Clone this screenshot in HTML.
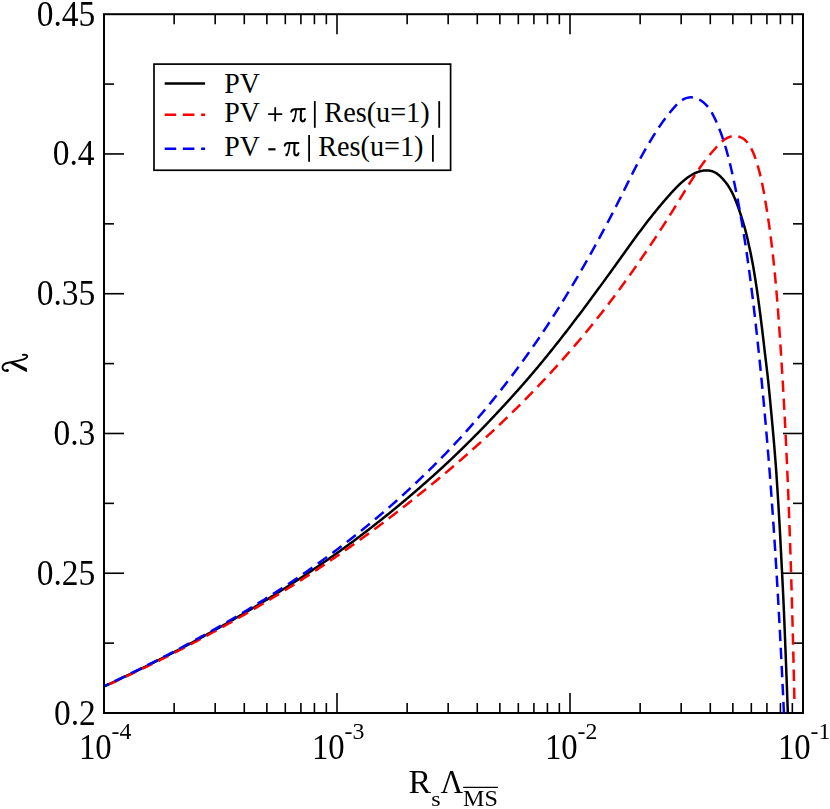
<!DOCTYPE html>
<html><head><meta charset="utf-8"><title>chart</title>
<style>html,body{margin:0;padding:0;background:#fff;}body{width:830px;height:809px;overflow:hidden;font-family:"Liberation Serif",serif;}svg{display:block;position:absolute;left:0;top:0}</style>
</head><body>
<svg width="830" height="809" viewBox="0 0 830 809">
<rect x="0" y="0" width="830" height="809" fill="#fff"/>
<rect x="104.0" y="14.2" width="699.0" height="698.8" fill="none" stroke="#000" stroke-width="2"/>
<line x1="174.14" y1="713.00" x2="174.14" y2="703.00" stroke="#000" stroke-width="1.6"/>
<line x1="174.14" y1="14.20" x2="174.14" y2="24.20" stroke="#000" stroke-width="1.6"/>
<line x1="215.17" y1="713.00" x2="215.17" y2="703.00" stroke="#000" stroke-width="1.6"/>
<line x1="215.17" y1="14.20" x2="215.17" y2="24.20" stroke="#000" stroke-width="1.6"/>
<line x1="244.28" y1="713.00" x2="244.28" y2="703.00" stroke="#000" stroke-width="1.6"/>
<line x1="244.28" y1="14.20" x2="244.28" y2="24.20" stroke="#000" stroke-width="1.6"/>
<line x1="266.86" y1="713.00" x2="266.86" y2="703.00" stroke="#000" stroke-width="1.6"/>
<line x1="266.86" y1="14.20" x2="266.86" y2="24.20" stroke="#000" stroke-width="1.6"/>
<line x1="285.31" y1="713.00" x2="285.31" y2="703.00" stroke="#000" stroke-width="1.6"/>
<line x1="285.31" y1="14.20" x2="285.31" y2="24.20" stroke="#000" stroke-width="1.6"/>
<line x1="300.91" y1="713.00" x2="300.91" y2="703.00" stroke="#000" stroke-width="1.6"/>
<line x1="300.91" y1="14.20" x2="300.91" y2="24.20" stroke="#000" stroke-width="1.6"/>
<line x1="314.42" y1="713.00" x2="314.42" y2="703.00" stroke="#000" stroke-width="1.6"/>
<line x1="314.42" y1="14.20" x2="314.42" y2="24.20" stroke="#000" stroke-width="1.6"/>
<line x1="326.34" y1="713.00" x2="326.34" y2="703.00" stroke="#000" stroke-width="1.6"/>
<line x1="326.34" y1="14.20" x2="326.34" y2="24.20" stroke="#000" stroke-width="1.6"/>
<line x1="337.00" y1="713.00" x2="337.00" y2="693.00" stroke="#000" stroke-width="1.6"/>
<line x1="337.00" y1="14.20" x2="337.00" y2="34.20" stroke="#000" stroke-width="1.6"/>
<line x1="407.14" y1="713.00" x2="407.14" y2="703.00" stroke="#000" stroke-width="1.6"/>
<line x1="407.14" y1="14.20" x2="407.14" y2="24.20" stroke="#000" stroke-width="1.6"/>
<line x1="448.17" y1="713.00" x2="448.17" y2="703.00" stroke="#000" stroke-width="1.6"/>
<line x1="448.17" y1="14.20" x2="448.17" y2="24.20" stroke="#000" stroke-width="1.6"/>
<line x1="477.28" y1="713.00" x2="477.28" y2="703.00" stroke="#000" stroke-width="1.6"/>
<line x1="477.28" y1="14.20" x2="477.28" y2="24.20" stroke="#000" stroke-width="1.6"/>
<line x1="499.86" y1="713.00" x2="499.86" y2="703.00" stroke="#000" stroke-width="1.6"/>
<line x1="499.86" y1="14.20" x2="499.86" y2="24.20" stroke="#000" stroke-width="1.6"/>
<line x1="518.31" y1="713.00" x2="518.31" y2="703.00" stroke="#000" stroke-width="1.6"/>
<line x1="518.31" y1="14.20" x2="518.31" y2="24.20" stroke="#000" stroke-width="1.6"/>
<line x1="533.91" y1="713.00" x2="533.91" y2="703.00" stroke="#000" stroke-width="1.6"/>
<line x1="533.91" y1="14.20" x2="533.91" y2="24.20" stroke="#000" stroke-width="1.6"/>
<line x1="547.42" y1="713.00" x2="547.42" y2="703.00" stroke="#000" stroke-width="1.6"/>
<line x1="547.42" y1="14.20" x2="547.42" y2="24.20" stroke="#000" stroke-width="1.6"/>
<line x1="559.34" y1="713.00" x2="559.34" y2="703.00" stroke="#000" stroke-width="1.6"/>
<line x1="559.34" y1="14.20" x2="559.34" y2="24.20" stroke="#000" stroke-width="1.6"/>
<line x1="570.00" y1="713.00" x2="570.00" y2="693.00" stroke="#000" stroke-width="1.6"/>
<line x1="570.00" y1="14.20" x2="570.00" y2="34.20" stroke="#000" stroke-width="1.6"/>
<line x1="640.14" y1="713.00" x2="640.14" y2="703.00" stroke="#000" stroke-width="1.6"/>
<line x1="640.14" y1="14.20" x2="640.14" y2="24.20" stroke="#000" stroke-width="1.6"/>
<line x1="681.17" y1="713.00" x2="681.17" y2="703.00" stroke="#000" stroke-width="1.6"/>
<line x1="681.17" y1="14.20" x2="681.17" y2="24.20" stroke="#000" stroke-width="1.6"/>
<line x1="710.28" y1="713.00" x2="710.28" y2="703.00" stroke="#000" stroke-width="1.6"/>
<line x1="710.28" y1="14.20" x2="710.28" y2="24.20" stroke="#000" stroke-width="1.6"/>
<line x1="732.86" y1="713.00" x2="732.86" y2="703.00" stroke="#000" stroke-width="1.6"/>
<line x1="732.86" y1="14.20" x2="732.86" y2="24.20" stroke="#000" stroke-width="1.6"/>
<line x1="751.31" y1="713.00" x2="751.31" y2="703.00" stroke="#000" stroke-width="1.6"/>
<line x1="751.31" y1="14.20" x2="751.31" y2="24.20" stroke="#000" stroke-width="1.6"/>
<line x1="766.91" y1="713.00" x2="766.91" y2="703.00" stroke="#000" stroke-width="1.6"/>
<line x1="766.91" y1="14.20" x2="766.91" y2="24.20" stroke="#000" stroke-width="1.6"/>
<line x1="780.42" y1="713.00" x2="780.42" y2="703.00" stroke="#000" stroke-width="1.6"/>
<line x1="780.42" y1="14.20" x2="780.42" y2="24.20" stroke="#000" stroke-width="1.6"/>
<line x1="792.34" y1="713.00" x2="792.34" y2="703.00" stroke="#000" stroke-width="1.6"/>
<line x1="792.34" y1="14.20" x2="792.34" y2="24.20" stroke="#000" stroke-width="1.6"/>
<line x1="104.00" y1="643.12" x2="114.00" y2="643.12" stroke="#000" stroke-width="1.6"/>
<line x1="803.00" y1="643.12" x2="793.00" y2="643.12" stroke="#000" stroke-width="1.6"/>
<line x1="104.00" y1="573.24" x2="124.00" y2="573.24" stroke="#000" stroke-width="1.6"/>
<line x1="803.00" y1="573.24" x2="783.00" y2="573.24" stroke="#000" stroke-width="1.6"/>
<line x1="104.00" y1="503.36" x2="114.00" y2="503.36" stroke="#000" stroke-width="1.6"/>
<line x1="803.00" y1="503.36" x2="793.00" y2="503.36" stroke="#000" stroke-width="1.6"/>
<line x1="104.00" y1="433.48" x2="124.00" y2="433.48" stroke="#000" stroke-width="1.6"/>
<line x1="803.00" y1="433.48" x2="783.00" y2="433.48" stroke="#000" stroke-width="1.6"/>
<line x1="104.00" y1="363.60" x2="114.00" y2="363.60" stroke="#000" stroke-width="1.6"/>
<line x1="803.00" y1="363.60" x2="793.00" y2="363.60" stroke="#000" stroke-width="1.6"/>
<line x1="104.00" y1="293.72" x2="124.00" y2="293.72" stroke="#000" stroke-width="1.6"/>
<line x1="803.00" y1="293.72" x2="783.00" y2="293.72" stroke="#000" stroke-width="1.6"/>
<line x1="104.00" y1="223.84" x2="114.00" y2="223.84" stroke="#000" stroke-width="1.6"/>
<line x1="803.00" y1="223.84" x2="793.00" y2="223.84" stroke="#000" stroke-width="1.6"/>
<line x1="104.00" y1="153.96" x2="124.00" y2="153.96" stroke="#000" stroke-width="1.6"/>
<line x1="803.00" y1="153.96" x2="783.00" y2="153.96" stroke="#000" stroke-width="1.6"/>
<line x1="104.00" y1="84.08" x2="114.00" y2="84.08" stroke="#000" stroke-width="1.6"/>
<line x1="803.00" y1="84.08" x2="793.00" y2="84.08" stroke="#000" stroke-width="1.6"/>
<clipPath id="c"><rect x="104.0" y="14.2" width="699.0" height="698.8"/></clipPath>
<g clip-path="url(#c)" fill="none" stroke-width="2.5" stroke-linejoin="round">
<path d="M104.96 686.12 L105.42 685.91 L105.97 685.65 L106.62 685.34 L107.36 684.99 L108.19 684.60 L109.02 684.21 L109.85 683.82 L110.68 683.42 L111.52 683.03 L112.35 682.64 L113.18 682.24 L114.01 681.85 L114.84 681.45 L115.67 681.06 L116.50 680.66 L117.33 680.27 L118.16 679.87 L118.99 679.48 L119.82 679.08 L120.65 678.68 L121.48 678.29 L122.30 677.89 L123.13 677.49 L123.96 677.09 L124.79 676.69 L125.62 676.29 L126.45 675.89 L127.28 675.50 L128.10 675.10 L128.93 674.70 L129.76 674.29 L130.59 673.89 L131.41 673.49 L132.24 673.09 L133.07 672.69 L133.90 672.29 L134.72 671.88 L135.55 671.48 L136.38 671.08 L137.20 670.67 L138.03 670.27 L138.86 669.86 L139.68 669.46 L140.51 669.05 L141.33 668.65 L142.16 668.24 L142.98 667.84 L143.81 667.43 L144.63 667.02 L145.46 666.61 L146.28 666.21 L147.11 665.80 L147.93 665.39 L148.76 664.98 L149.58 664.57 L150.40 664.16 L151.23 663.75 L152.05 663.34 L152.87 662.93 L153.70 662.52 L154.52 662.11 L155.34 661.69 L156.16 661.28 L156.99 660.87 L157.81 660.46 L158.63 660.04 L159.45 659.63 L160.27 659.21 L161.09 658.80 L161.91 658.38 L162.74 657.97 L163.56 657.55 L164.38 657.14 L165.20 656.72 L166.02 656.30 L166.84 655.88 L167.66 655.46 L168.48 655.04 L169.29 654.62 L170.11 654.20 L170.93 653.78 L171.75 653.35 L172.57 652.93 L173.39 652.50 L174.21 652.07 L175.02 651.64 L175.84 651.22 L176.66 650.79 L177.47 650.36 L178.29 649.93 L179.11 649.50 L179.92 649.07 L180.74 648.64 L181.56 648.20 L182.37 647.77 L183.19 647.34 L184.00 646.91 L184.82 646.47 L185.63 646.04 L186.45 645.61 L187.26 645.17 L188.08 644.74 L188.89 644.30 L189.70 643.86 L190.52 643.43 L191.33 642.99 L192.14 642.55 L192.95 642.12 L193.77 641.68 L194.58 641.24 L195.39 640.80 L196.20 640.36 L197.01 639.92 L197.83 639.48 L198.64 639.04 L199.45 638.60 L200.26 638.16 L201.07 637.71 L201.88 637.27 L202.69 636.83 L203.50 636.38 L204.30 635.94 L205.11 635.49 L205.92 635.05 L206.73 634.60 L207.54 634.16 L208.35 633.71 L209.15 633.26 L209.96 632.82 L210.77 632.37 L211.57 631.92 L212.38 631.47 L213.19 631.02 L213.99 630.57 L214.80 630.12 L215.60 629.67 L216.41 629.22 L217.21 628.77 L218.02 628.31 L218.82 627.86 L219.63 627.41 L220.43 626.95 L221.23 626.50 L222.03 626.04 L222.84 625.59 L223.64 625.13 L224.44 624.68 L225.24 624.22 L226.05 623.76 L226.85 623.30 L227.65 622.85 L228.45 622.39 L229.25 621.93 L230.05 621.47 L230.85 621.01 L231.65 620.54 L232.45 620.08 L233.25 619.62 L234.04 619.16 L234.84 618.70 L235.64 618.23 L236.44 617.77 L237.23 617.30 L238.03 616.84 L238.83 616.37 L239.62 615.91 L240.42 615.44 L241.22 614.98 L242.01 614.51 L242.81 614.05 L243.60 613.58 L244.40 613.11 L245.19 612.65 L245.98 612.18 L246.78 611.71 L247.57 611.24 L248.36 610.77 L249.15 610.30 L249.95 609.83 L250.74 609.36 L251.53 608.89 L252.32 608.42 L253.11 607.94 L253.90 607.47 L254.69 607.00 L255.48 606.52 L256.27 606.05 L257.06 605.57 L257.85 605.10 L258.64 604.62 L259.42 604.14 L260.21 603.66 L261.00 603.19 L261.79 602.71 L262.57 602.23 L263.36 601.75 L264.15 601.27 L264.93 600.79 L265.72 600.30 L266.50 599.82 L267.29 599.34 L268.07 598.85 L268.85 598.37 L269.64 597.89 L270.42 597.40 L271.20 596.91 L271.98 596.43 L272.77 595.94 L273.55 595.45 L274.33 594.97 L275.11 594.48 L275.89 593.99 L276.67 593.50 L277.45 593.01 L278.23 592.52 L279.01 592.02 L279.79 591.53 L280.56 591.04 L281.34 590.55 L282.12 590.05 L282.90 589.56 L283.67 589.06 L284.45 588.57 L285.22 588.07 L286.00 587.57 L286.78 587.07 L287.55 586.58 L288.32 586.08 L289.10 585.58 L289.87 585.08 L290.65 584.58 L291.42 584.08 L292.19 583.57 L292.96 583.07 L293.73 582.57 L294.51 582.07 L295.28 581.56 L296.05 581.06 L296.82 580.55 L297.59 580.05 L298.36 579.54 L299.12 579.03 L299.89 578.53 L300.66 578.02 L301.43 577.51 L302.20 577.00 L302.96 576.50 L303.73 575.99 L304.50 575.48 L305.26 574.97 L306.03 574.46 L306.79 573.95 L307.56 573.44 L308.32 572.93 L309.09 572.41 L309.85 571.90 L310.61 571.39 L311.37 570.87 L312.14 570.36 L312.90 569.84 L313.66 569.33 L314.42 568.81 L315.18 568.29 L315.94 567.78 L316.70 567.26 L317.46 566.74 L318.22 566.22 L318.98 565.70 L319.74 565.18 L320.49 564.66 L321.25 564.14 L322.01 563.61 L322.77 563.09 L323.52 562.57 L324.28 562.04 L325.03 561.52 L325.79 560.99 L326.54 560.47 L327.30 559.94 L328.05 559.41 L328.80 558.89 L329.56 558.36 L330.31 557.83 L331.06 557.30 L331.81 556.77 L332.56 556.24 L333.31 555.71 L334.07 555.18 L334.82 554.65 L335.57 554.11 L336.31 553.58 L337.06 553.05 L337.81 552.51 L338.56 551.98 L339.31 551.44 L340.05 550.90 L340.80 550.37 L341.55 549.83 L342.29 549.29 L343.04 548.75 L343.78 548.21 L344.53 547.67 L345.27 547.13 L346.02 546.59 L346.76 546.05 L347.50 545.51 L348.24 544.97 L348.99 544.42 L349.73 543.87 L350.47 543.33 L351.21 542.78 L351.95 542.23 L352.69 541.68 L353.43 541.13 L354.17 540.57 L354.91 540.02 L355.65 539.46 L356.38 538.91 L357.12 538.35 L357.86 537.80 L358.59 537.24 L359.33 536.68 L360.07 536.13 L360.80 535.57 L361.54 535.01 L362.27 534.45 L363.00 533.89 L363.74 533.33 L364.47 532.77 L365.20 532.21 L365.93 531.64 L366.67 531.08 L367.40 530.52 L368.13 529.95 L368.86 529.39 L369.59 528.82 L370.32 528.26 L371.05 527.69 L371.78 527.13 L372.50 526.56 L373.23 525.99 L373.96 525.42 L374.69 524.85 L375.41 524.28 L376.14 523.71 L376.86 523.14 L377.59 522.57 L378.31 522.00 L379.04 521.43 L379.76 520.85 L380.48 520.28 L381.21 519.71 L381.93 519.13 L382.65 518.56 L383.37 517.98 L384.09 517.40 L384.81 516.83 L385.53 516.25 L386.25 515.67 L386.97 515.09 L387.69 514.51 L388.41 513.93 L389.13 513.35 L389.84 512.77 L390.56 512.19 L391.28 511.61 L391.99 511.03 L392.71 510.44 L393.42 509.86 L394.14 509.27 L394.85 508.69 L395.57 508.10 L396.28 507.52 L396.99 506.93 L397.70 506.34 L398.42 505.76 L399.13 505.17 L399.84 504.58 L400.55 503.99 L401.26 503.40 L401.97 502.81 L402.68 502.21 L403.39 501.62 L404.09 501.03 L404.80 500.43 L405.51 499.84 L406.21 499.24 L406.92 498.65 L407.63 498.05 L408.33 497.45 L409.04 496.85 L409.74 496.26 L410.44 495.66 L411.15 495.06 L411.85 494.46 L412.55 493.86 L413.25 493.26 L413.95 492.66 L414.66 492.05 L415.36 491.45 L416.06 490.85 L416.75 490.24 L417.45 489.64 L418.15 489.03 L418.85 488.43 L419.55 487.82 L420.24 487.22 L420.94 486.61 L421.64 486.00 L422.33 485.39 L423.03 484.78 L423.72 484.17 L424.41 483.56 L425.11 482.95 L425.80 482.34 L426.49 481.73 L427.19 481.12 L427.88 480.51 L428.57 479.89 L429.26 479.28 L429.95 478.66 L430.64 478.05 L431.33 477.43 L432.01 476.82 L432.70 476.20 L433.39 475.58 L434.08 474.96 L434.76 474.35 L435.45 473.73 L436.13 473.11 L436.82 472.49 L437.50 471.87 L438.19 471.24 L438.87 470.62 L439.55 470.00 L440.24 469.38 L440.92 468.75 L441.60 468.13 L442.28 467.51 L442.96 466.88 L443.64 466.25 L444.32 465.63 L445.00 465.00 L445.67 464.37 L446.35 463.75 L447.03 463.12 L447.71 462.49 L448.38 461.86 L449.06 461.22 L449.73 460.59 L450.41 459.95 L451.08 459.32 L451.75 458.68 L452.43 458.04 L453.10 457.40 L453.77 456.75 L454.44 456.11 L455.11 455.47 L455.78 454.82 L456.45 454.18 L457.12 453.53 L457.79 452.89 L458.46 452.24 L459.13 451.60 L459.79 450.95 L460.46 450.30 L461.13 449.65 L461.79 449.00 L462.46 448.35 L463.12 447.70 L463.78 447.05 L464.45 446.40 L465.11 445.75 L465.77 445.10 L466.43 444.44 L467.09 443.79 L467.76 443.14 L468.42 442.48 L469.07 441.83 L469.73 441.17 L470.39 440.51 L471.05 439.86 L471.71 439.20 L472.36 438.54 L473.02 437.88 L473.68 437.22 L474.33 436.57 L474.98 435.91 L475.64 435.24 L476.29 434.58 L476.94 433.92 L477.60 433.26 L478.25 432.60 L478.90 431.93 L479.55 431.27 L480.20 430.60 L480.85 429.94 L481.50 429.27 L482.15 428.61 L482.80 427.94 L483.44 427.27 L484.09 426.60 L484.74 425.94 L485.38 425.27 L486.03 424.60 L486.67 423.93 L487.31 423.26 L487.96 422.59 L488.60 421.91 L489.24 421.24 L489.88 420.57 L490.52 419.90 L491.16 419.22 L491.80 418.55 L492.44 417.87 L493.08 417.20 L493.72 416.52 L494.36 415.84 L495.00 415.17 L495.63 414.49 L496.27 413.81 L496.90 413.13 L497.54 412.45 L498.17 411.77 L498.80 411.09 L499.44 410.41 L500.07 409.73 L500.70 409.05 L501.33 408.37 L501.96 407.70 L502.59 407.02 L503.22 406.34 L503.85 405.66 L504.48 404.98 L505.11 404.30 L505.73 403.62 L506.36 402.94 L506.99 402.25 L507.61 401.57 L508.24 400.89 L508.86 400.20 L509.48 399.52 L510.11 398.83 L510.73 398.15 L511.35 397.46 L511.97 396.77 L512.59 396.09 L513.21 395.40 L513.83 394.71 L514.45 394.02 L515.07 393.33 L515.69 392.64 L516.30 391.95 L516.92 391.26 L517.54 390.57 L518.15 389.88 L518.76 389.18 L519.38 388.49 L519.99 387.80 L520.60 387.10 L521.22 386.41 L521.83 385.71 L522.44 385.01 L523.05 384.32 L523.66 383.62 L524.27 382.92 L524.88 382.22 L525.48 381.52 L526.09 380.83 L526.70 380.12 L527.30 379.42 L527.91 378.72 L528.51 378.02 L529.12 377.32 L529.72 376.62 L530.32 375.91 L530.93 375.21 L531.53 374.50 L532.13 373.80 L532.73 373.09 L533.33 372.39 L533.93 371.68 L534.53 370.97 L535.13 370.26 L535.72 369.56 L536.32 368.85 L536.92 368.14 L537.51 367.43 L538.11 366.72 L538.70 366.01 L539.29 365.29 L539.89 364.58 L540.48 363.86 L541.07 363.15 L541.66 362.43 L542.26 361.71 L542.85 360.99 L543.44 360.28 L544.03 359.56 L544.61 358.84 L545.20 358.11 L545.79 357.39 L546.38 356.67 L546.96 355.95 L547.55 355.23 L548.13 354.50 L548.72 353.78 L549.30 353.06 L549.89 352.33 L550.47 351.61 L551.05 350.88 L551.64 350.16 L552.22 349.43 L552.80 348.70 L553.38 347.98 L553.96 347.25 L554.54 346.52 L555.12 345.79 L555.70 345.06 L556.27 344.34 L556.85 343.61 L557.43 342.88 L558.01 342.15 L558.58 341.42 L559.16 340.69 L559.73 339.95 L560.31 339.22 L560.88 338.49 L561.45 337.76 L562.03 337.02 L562.60 336.29 L563.17 335.56 L563.74 334.82 L564.31 334.09 L564.88 333.36 L565.45 332.62 L566.02 331.89 L566.59 331.15 L567.16 330.41 L567.73 329.68 L568.30 328.94 L568.87 328.20 L569.43 327.47 L570.00 326.73 L570.56 325.99 L571.13 325.25 L571.70 324.51 L572.26 323.77 L572.82 323.04 L573.39 322.30 L573.95 321.56 L574.51 320.82 L575.08 320.08 L575.64 319.34 L576.20 318.59 L576.76 317.85 L577.32 317.11 L577.88 316.37 L578.44 315.63 L579.00 314.89 L579.56 314.15 L580.12 313.40 L580.68 312.66 L581.23 311.92 L581.79 311.18 L582.35 310.44 L582.91 309.70 L583.46 308.96 L584.02 308.21 L584.57 307.47 L585.13 306.73 L585.68 305.99 L586.24 305.25 L586.79 304.50 L587.34 303.76 L587.90 303.02 L588.45 302.27 L589.00 301.53 L589.55 300.78 L590.10 300.04 L590.66 299.30 L591.21 298.55 L591.76 297.81 L592.31 297.06 L592.86 296.32 L593.41 295.57 L593.96 294.83 L594.50 294.08 L595.05 293.34 L595.60 292.59 L596.15 291.84 L596.70 291.10 L597.24 290.35 L597.79 289.60 L598.33 288.86 L598.88 288.11 L599.43 287.36 L599.97 286.62 L600.52 285.87 L601.06 285.12 L601.61 284.37 L602.15 283.63 L602.69 282.88 L603.24 282.13 L603.78 281.38 L604.32 280.64 L604.86 279.89 L605.41 279.14 L605.95 278.39 L606.49 277.64 L607.03 276.89 L607.57 276.14 L608.11 275.40 L608.65 274.65 L609.19 273.90 L609.73 273.15 L610.27 272.40 L610.81 271.65 L611.35 270.90 L611.89 270.15 L612.43 269.40 L612.97 268.65 L613.50 267.90 L614.04 267.16 L614.58 266.41 L615.12 265.66 L615.65 264.91 L616.19 264.16 L616.73 263.41 L617.26 262.66 L617.80 261.91 L618.33 261.16 L618.87 260.41 L619.41 259.66 L619.94 258.91 L620.48 258.16 L621.01 257.42 L621.55 256.67 L622.09 255.92 L622.62 255.18 L623.16 254.43 L623.70 253.68 L624.23 252.94 L624.77 252.19 L625.31 251.44 L625.84 250.70 L626.38 249.95 L626.92 249.21 L627.46 248.46 L627.99 247.71 L628.53 246.97 L629.07 246.22 L629.61 245.48 L630.15 244.73 L630.69 243.99 L631.23 243.25 L631.77 242.50 L632.31 241.76 L632.86 241.02 L633.40 240.27 L633.94 239.53 L634.49 238.79 L635.03 238.05 L635.58 237.30 L636.12 236.56 L636.67 235.82 L637.22 235.08 L637.77 234.34 L638.31 233.60 L638.86 232.86 L639.41 232.12 L639.97 231.38 L640.52 230.64 L641.07 229.91 L641.63 229.17 L642.18 228.43 L642.74 227.69 L643.29 226.96 L643.85 226.22 L644.41 225.49 L644.97 224.75 L645.53 224.02 L646.09 223.28 L646.66 222.55 L647.22 221.82 L647.79 221.09 L648.35 220.35 L648.92 219.62 L649.49 218.89 L650.06 218.17 L650.64 217.44 L651.21 216.71 L651.78 215.99 L652.36 215.27 L652.94 214.54 L653.52 213.82 L654.10 213.10 L654.68 212.38 L655.26 211.66 L655.85 210.94 L656.43 210.22 L657.02 209.51 L657.61 208.79 L658.20 208.07 L658.79 207.36 L659.39 206.64 L659.98 205.93 L660.58 205.21 L661.18 204.50 L661.78 203.79 L662.39 203.08 L662.99 202.37 L663.60 201.66 L664.21 200.95 L664.82 200.24 L665.43 199.54 L666.04 198.83 L666.66 198.12 L667.28 197.42 L667.90 196.72 L668.52 196.01 L669.15 195.31 L669.77 194.61 L670.40 193.91 L671.03 193.21 L671.66 192.51 L672.30 191.82 L672.94 191.12 L673.58 190.43 L674.23 189.73 L674.88 189.04 L675.54 188.35 L676.21 187.67 L676.88 186.98 L677.56 186.30 L678.24 185.63 L678.93 184.96 L679.62 184.29 L680.32 183.64 L681.02 182.98 L681.73 182.34 L682.45 181.70 L683.17 181.07 L683.89 180.46 L684.63 179.85 L685.37 179.25 L686.11 178.67 L686.87 178.10 L687.63 177.54 L688.40 176.99 L689.18 176.46 L689.97 175.95 L690.76 175.45 L691.56 174.97 L692.38 174.51 L693.20 174.07 L694.03 173.64 L694.87 173.24 L695.72 172.86 L696.58 172.50 L697.45 172.16 L698.32 171.85 L699.21 171.56 L700.10 171.30 L701.00 171.07 L701.90 170.86 L702.80 170.69 L703.71 170.56 L704.61 170.46 L705.50 170.40 L706.39 170.38 L707.28 170.40 L708.15 170.45 L709.02 170.55 L709.88 170.68 L710.72 170.86 L711.55 171.07 L712.37 171.32 L713.18 171.61 L713.97 171.94 L714.75 172.31 L715.52 172.72 L716.27 173.16 L717.00 173.64 L717.71 174.15 L718.41 174.69 L719.09 175.26 L719.76 175.86 L720.43 176.48 L721.08 177.12 L721.72 177.79 L722.35 178.46 L722.97 179.16 L723.59 179.87 L724.20 180.58 L724.81 181.31 L725.41 182.04 L725.99 182.79 L726.55 183.54 L727.10 184.29 L727.64 185.05 L728.16 185.82 L728.67 186.59 L729.16 187.37 L729.63 188.15 L730.09 188.94 L730.55 189.73 L731.00 190.52 L731.44 191.32 L731.86 192.11 L732.28 192.91 L732.68 193.72 L733.06 194.52 L733.44 195.33 L733.80 196.14 L734.15 196.95 L734.49 197.77 L734.83 198.58 L735.16 199.40 L735.49 200.22 L735.82 201.05 L736.15 201.87 L736.47 202.70 L736.80 203.53 L737.12 204.36 L737.43 205.19 L737.74 206.03 L738.04 206.87 L738.34 207.71 L738.64 208.55 L738.94 209.39 L739.23 210.24 L739.52 211.09 L739.81 211.94 L740.10 212.79 L740.38 213.64 L740.67 214.50 L740.95 215.36 L741.22 216.21 L741.49 217.07 L741.76 217.94 L742.03 218.80 L742.30 219.67 L742.56 220.53 L742.83 221.40 L743.09 222.27 L743.35 223.14 L743.62 224.02 L743.88 224.89 L744.13 225.77 L744.38 226.65 L744.63 227.52 L744.88 228.41 L745.12 229.29 L745.35 230.17 L745.59 231.05 L745.82 231.94 L746.04 232.83 L746.27 233.72 L746.49 234.60 L746.70 235.49 L746.92 236.39 L747.13 237.28 L747.33 238.17 L747.54 239.07 L747.74 239.96 L747.94 240.86 L748.14 241.76 L748.33 242.66 L748.53 243.56 L748.73 244.46 L748.93 245.36 L749.14 246.26 L749.34 247.17 L749.54 248.07 L749.74 248.98 L749.94 249.88 L750.13 250.79 L750.33 251.70 L750.52 252.60 L750.71 253.51 L750.90 254.42 L751.08 255.33 L751.26 256.24 L751.45 257.15 L751.63 258.06 L751.80 258.98 L751.98 259.89 L752.15 260.80 L752.33 261.71 L752.50 262.63 L752.67 263.54 L752.84 264.46 L753.00 265.37 L753.16 266.29 L753.33 267.20 L753.48 268.12 L753.64 269.03 L753.80 269.95 L753.95 270.86 L754.10 271.78 L754.25 272.70 L754.40 273.61 L754.55 274.53 L754.70 275.45 L754.84 276.36 L754.99 277.28 L755.14 278.19 L755.28 279.11 L755.43 280.03 L755.57 280.94 L755.71 281.86 L755.86 282.78 L756.00 283.69 L756.14 284.61 L756.28 285.52 L756.42 286.44 L756.56 287.36 L756.70 288.27 L756.84 289.19 L756.97 290.11 L757.10 291.02 L757.24 291.94 L757.37 292.85 L757.50 293.77 L757.63 294.69 L757.75 295.60 L757.88 296.52 L758.01 297.43 L758.14 298.35 L758.26 299.27 L758.39 300.18 L758.51 301.10 L758.64 302.01 L758.76 302.93 L758.88 303.84 L759.01 304.76 L759.13 305.68 L759.25 306.59 L759.37 307.51 L759.49 308.42 L759.61 309.34 L759.73 310.25 L759.85 311.17 L759.97 312.09 L760.09 313.00 L760.20 313.92 L760.32 314.83 L760.44 315.75 L760.55 316.66 L760.67 317.58 L760.78 318.50 L760.90 319.41 L761.01 320.33 L761.13 321.24 L761.24 322.16 L761.35 323.07 L761.47 323.99 L761.58 324.91 L761.69 325.82 L761.81 326.74 L761.92 327.65 L762.03 328.57 L762.15 329.48 L762.26 330.40 L762.37 331.31 L762.48 332.23 L762.59 333.15 L762.70 334.06 L762.81 334.98 L762.92 335.89 L763.03 336.81 L763.13 337.72 L763.24 338.64 L763.35 339.56 L763.46 340.47 L763.56 341.39 L763.67 342.30 L763.77 343.22 L763.88 344.13 L763.98 345.05 L764.09 345.97 L764.19 346.88 L764.29 347.80 L764.40 348.71 L764.51 349.63 L764.61 350.54 L764.72 351.46 L764.83 352.38 L764.94 353.29 L765.05 354.21 L765.16 355.12 L765.28 356.04 L765.39 356.96 L765.50 357.87 L765.61 358.79 L765.72 359.70 L765.83 360.62 L765.94 361.54 L766.05 362.45 L766.16 363.37 L766.27 364.28 L766.38 365.20 L766.49 366.12 L766.59 367.03 L766.70 367.95 L766.81 368.87 L766.92 369.78 L767.02 370.70 L767.13 371.61 L767.23 372.53 L767.34 373.45 L767.45 374.36 L767.55 375.28 L767.65 376.20 L767.76 377.11 L767.86 378.03 L767.96 378.95 L768.06 379.86 L768.16 380.78 L768.26 381.70 L768.35 382.61 L768.45 383.53 L768.54 384.45 L768.63 385.36 L768.72 386.28 L768.82 387.20 L768.91 388.11 L769.00 389.03 L769.09 389.95 L769.18 390.87 L769.27 391.78 L769.36 392.70 L769.45 393.62 L769.54 394.53 L769.63 395.45 L769.72 396.37 L769.81 397.29 L769.90 398.20 L769.99 399.12 L770.08 400.04 L770.16 400.96 L770.25 401.87 L770.34 402.79 L770.43 403.71 L770.51 404.63 L770.60 405.55 L770.69 406.46 L770.77 407.38 L770.86 408.30 L770.94 409.22 L771.03 410.14 L771.11 411.05 L771.20 411.97 L771.29 412.89 L771.37 413.81 L771.46 414.73 L771.54 415.65 L771.63 416.56 L771.71 417.48 L771.80 418.40 L771.89 419.32 L771.97 420.24 L772.05 421.16 L772.14 422.08 L772.22 422.99 L772.31 423.91 L772.39 424.83 L772.48 425.75 L772.56 426.67 L772.64 427.59 L772.72 428.51 L772.81 429.43 L772.89 430.35 L772.97 431.27 L773.05 432.18 L773.13 433.10 L773.22 434.02 L773.30 434.94 L773.38 435.86 L773.46 436.78 L773.54 437.70 L773.62 438.62 L773.70 439.54 L773.78 440.46 L773.86 441.38 L773.94 442.30 L774.02 443.22 L774.09 444.14 L774.17 445.06 L774.25 445.98 L774.33 446.90 L774.40 447.82 L774.48 448.74 L774.55 449.66 L774.63 450.58 L774.70 451.50 L774.78 452.42 L774.85 453.34 L774.92 454.26 L775.00 455.18 L775.07 456.10 L775.14 457.02 L775.21 457.94 L775.29 458.86 L775.36 459.78 L775.43 460.70 L775.50 461.62 L775.57 462.54 L775.64 463.46 L775.72 464.38 L775.79 465.30 L775.86 466.22 L775.93 467.14 L775.99 468.06 L776.06 468.98 L776.13 469.90 L776.20 470.82 L776.26 471.74 L776.33 472.66 L776.39 473.59 L776.45 474.51 L776.51 475.43 L776.58 476.35 L776.64 477.27 L776.70 478.19 L776.76 479.11 L776.82 480.03 L776.88 480.95 L776.94 481.87 L777.00 482.80 L777.06 483.72 L777.12 484.64 L777.18 485.56 L777.24 486.48 L777.30 487.40 L777.36 488.32 L777.42 489.24 L777.48 490.16 L777.54 491.09 L777.60 492.01 L777.66 492.93 L777.71 493.85 L777.77 494.77 L777.83 495.69 L777.89 496.61 L777.94 497.54 L778.00 498.46 L778.06 499.38 L778.12 500.30 L778.17 501.22 L778.23 502.14 L778.28 503.07 L778.34 503.99 L778.40 504.91 L778.45 505.83 L778.51 506.75 L778.56 507.67 L778.62 508.60 L778.67 509.52 L778.73 510.44 L778.78 511.36 L778.84 512.28 L778.89 513.21 L778.94 514.13 L779.00 515.05 L779.05 515.97 L779.10 516.89 L779.16 517.82 L779.21 518.74 L779.26 519.66 L779.31 520.58 L779.37 521.50 L779.42 522.43 L779.47 523.35 L779.52 524.27 L779.57 525.19 L779.63 526.11 L779.68 527.04 L779.73 527.96 L779.78 528.88 L779.83 529.80 L779.88 530.73 L779.93 531.65 L779.98 532.57 L780.03 533.49 L780.08 534.42 L780.13 535.34 L780.18 536.26 L780.23 537.18 L780.28 538.10 L780.33 539.03 L780.38 539.95 L780.43 540.87 L780.47 541.79 L780.52 542.72 L780.57 543.64 L780.62 544.56 L780.67 545.48 L780.71 546.41 L780.76 547.33 L780.81 548.25 L780.86 549.17 L780.90 550.10 L780.95 551.02 L781.00 551.94 L781.04 552.87 L781.09 553.79 L781.14 554.71 L781.18 555.63 L781.23 556.56 L781.28 557.48 L781.32 558.40 L781.37 559.32 L781.42 560.25 L781.46 561.17 L781.51 562.09 L781.56 563.01 L781.61 563.94 L781.66 564.86 L781.71 565.78 L781.76 566.71 L781.80 567.63 L781.85 568.55 L781.90 569.47 L781.95 570.40 L782.00 571.32 L782.04 572.24 L782.09 573.17 L782.14 574.09 L782.19 575.01 L782.23 575.93 L782.28 576.86 L782.33 577.78 L782.37 578.70 L782.42 579.63 L782.47 580.55 L782.51 581.47 L782.56 582.39 L782.61 583.32 L782.65 584.24 L782.70 585.16 L782.74 586.09 L782.79 587.01 L782.83 587.93 L782.88 588.85 L782.92 589.78 L782.97 590.70 L783.01 591.62 L783.06 592.55 L783.10 593.47 L783.15 594.39 L783.19 595.31 L783.24 596.24 L783.28 597.16 L783.32 598.08 L783.37 599.01 L783.41 599.93 L783.45 600.85 L783.49 601.78 L783.53 602.70 L783.58 603.62 L783.62 604.54 L783.66 605.47 L783.70 606.39 L783.74 607.31 L783.78 608.24 L783.82 609.16 L783.86 610.08 L783.90 611.00 L783.94 611.93 L783.98 612.85 L784.02 613.77 L784.06 614.70 L784.10 615.62 L784.13 616.54 L784.17 617.46 L784.21 618.39 L784.25 619.31 L784.29 620.23 L784.33 621.16 L784.37 622.08 L784.41 623.00 L784.44 623.92 L784.48 624.85 L784.52 625.77 L784.56 626.69 L784.60 627.62 L784.63 628.54 L784.67 629.46 L784.71 630.38 L784.75 631.31 L784.78 632.23 L784.82 633.15 L784.86 634.08 L784.90 635.00 L784.93 635.92 L784.97 636.84 L785.01 637.77 L785.04 638.69 L785.08 639.61 L785.12 640.53 L785.15 641.46 L785.19 642.38 L785.22 643.30 L785.26 644.23 L785.30 645.15 L785.33 646.07 L785.37 646.99 L785.40 647.92 L785.44 648.84 L785.48 649.76 L785.51 650.68 L785.55 651.61 L785.58 652.53 L785.62 653.45 L785.66 654.37 L785.69 655.30 L785.73 656.22 L785.77 657.14 L785.80 658.06 L785.84 658.99 L785.87 659.91 L785.91 660.83 L785.95 661.75 L785.98 662.68 L786.02 663.60 L786.05 664.52 L786.09 665.44 L786.12 666.37 L786.16 667.29 L786.19 668.21 L786.23 669.13 L786.26 670.06 L786.30 670.98 L786.33 671.90 L786.37 672.82 L786.40 673.74 L786.44 674.67 L786.47 675.59 L786.51 676.51 L786.54 677.43 L786.58 678.35 L786.61 679.28 L786.65 680.20 L786.68 681.12 L786.71 682.04 L786.75 682.97 L786.78 683.89 L786.82 684.81 L786.85 685.73 L786.88 686.65 L786.92 687.57 L786.95 688.50 L786.98 689.42 L787.02 690.34 L787.05 691.26 L787.08 692.18 L787.12 693.11 L787.15 694.03 L787.18 694.95 L787.22 695.87 L787.25 696.79 L787.28 697.71 L787.32 698.64 L787.35 699.56 L787.38 700.48 L787.42 701.40 L787.45 702.32 L787.48 703.24 L787.51 704.17 L787.55 705.09 L787.58 706.01 L787.61 706.93 L787.64 707.85 L787.68 708.77 L787.71 709.69 L787.74 710.62 L787.77 711.54 L787.80 712.46 L787.84 713.38 L787.87 714.30 L787.90 715.22 L787.93 716.14 L787.96 717.06 L787.99 717.98 L788.02 718.91 L788.05 719.83 L788.08 720.75 L788.11 721.67 L788.14 722.59 L788.17 723.51 L788.20 724.43 L788.23 725.35 L788.26 726.27 L788.29 727.09 L788.31 727.81 L788.33 728.42 L788.35 728.93" stroke="#000"/>
<path d="M104.93 686.24 L105.42 686.02 L106.01 685.75 L106.70 685.44 L107.48 685.08 L108.36 684.68 L109.24 684.27 L110.12 683.87 L111.00 683.47 L111.88 683.06 L112.77 682.66 L113.65 682.25 L114.53 681.85 L115.41 681.44 L116.28 681.04 L117.16 680.63 L118.04 680.22 L118.92 679.81 L119.80 679.41 L120.68 679.00 L121.56 678.59 L122.44 678.18 L123.31 677.77 L124.19 677.36 L125.07 676.94 L125.95 676.53 L126.82 676.12 L127.70 675.71 L128.58 675.29 L129.46 674.88 L130.33 674.47 L131.21 674.05 L132.08 673.64 L132.96 673.22 L133.84 672.80 L134.71 672.39 L135.59 671.97 L136.46 671.55 L137.34 671.13 L138.21 670.71 L139.09 670.29 L139.96 669.88 L140.83 669.45 L141.71 669.03 L142.58 668.61 L143.45 668.19 L144.33 667.77 L145.20 667.35 L146.07 666.92 L146.95 666.50 L147.82 666.07 L148.69 665.65 L149.56 665.22 L150.43 664.80 L151.30 664.37 L152.18 663.95 L153.05 663.52 L153.92 663.09 L154.79 662.66 L155.66 662.23 L156.53 661.81 L157.40 661.38 L158.27 660.95 L159.14 660.51 L160.01 660.08 L160.88 659.65 L161.74 659.22 L162.61 658.79 L163.48 658.35 L164.35 657.92 L165.22 657.49 L166.08 657.05 L166.95 656.62 L167.82 656.18 L168.69 655.74 L169.55 655.30 L170.42 654.86 L171.29 654.42 L172.15 653.98 L173.02 653.53 L173.88 653.09 L174.75 652.64 L175.61 652.19 L176.48 651.75 L177.34 651.30 L178.21 650.85 L179.07 650.40 L179.93 649.95 L180.80 649.50 L181.66 649.05 L182.52 648.60 L183.39 648.15 L184.25 647.70 L185.11 647.24 L185.97 646.79 L186.84 646.34 L187.70 645.88 L188.56 645.43 L189.42 644.97 L190.28 644.52 L191.14 644.06 L192.00 643.61 L192.86 643.15 L193.72 642.69 L194.58 642.23 L195.44 641.78 L196.30 641.32 L197.16 640.86 L198.02 640.40 L198.87 639.94 L199.73 639.48 L200.59 639.01 L201.45 638.55 L202.31 638.09 L203.16 637.63 L204.02 637.16 L204.88 636.70 L205.73 636.23 L206.59 635.77 L207.44 635.30 L208.30 634.84 L209.15 634.37 L210.01 633.90 L210.86 633.44 L211.72 632.97 L212.57 632.50 L213.42 632.03 L214.28 631.56 L215.13 631.09 L215.98 630.62 L216.84 630.15 L217.69 629.68 L218.54 629.20 L219.39 628.73 L220.24 628.26 L221.10 627.78 L221.95 627.31 L222.80 626.84 L223.65 626.36 L224.50 625.88 L225.35 625.41 L226.20 624.93 L227.05 624.45 L227.90 623.98 L228.74 623.50 L229.59 623.02 L230.44 622.54 L231.29 622.06 L232.14 621.58 L232.98 621.10 L233.83 620.62 L234.68 620.13 L235.52 619.65 L236.37 619.17 L237.22 618.68 L238.06 618.20 L238.91 617.72 L239.75 617.23 L240.60 616.75 L241.44 616.26 L242.28 615.77 L243.13 615.29 L243.97 614.80 L244.81 614.31 L245.66 613.82 L246.50 613.33 L247.34 612.84 L248.18 612.35 L249.02 611.86 L249.87 611.37 L250.71 610.88 L251.55 610.39 L252.39 609.89 L253.23 609.40 L254.07 608.91 L254.91 608.41 L255.75 607.92 L256.59 607.42 L257.42 606.93 L258.26 606.43 L259.10 605.93 L259.94 605.43 L260.77 604.94 L261.61 604.44 L262.45 603.94 L263.28 603.44 L264.12 602.94 L264.96 602.44 L265.79 601.94 L266.63 601.44 L267.46 600.93 L268.30 600.43 L269.13 599.93 L269.96 599.42 L270.80 598.92 L271.63 598.41 L272.46 597.91 L273.30 597.40 L274.13 596.90 L274.96 596.39 L275.79 595.88 L276.62 595.37 L277.45 594.86 L278.28 594.36 L279.11 593.85 L279.94 593.34 L280.77 592.83 L281.60 592.31 L282.43 591.80 L283.26 591.29 L284.09 590.78 L284.92 590.26 L285.74 589.75 L286.57 589.24 L287.40 588.72 L288.22 588.20 L289.05 587.69 L289.87 587.17 L290.70 586.66 L291.53 586.14 L292.35 585.62 L293.17 585.10 L294.00 584.58 L294.82 584.06 L295.65 583.54 L296.47 583.02 L297.29 582.50 L298.11 581.98 L298.94 581.45 L299.76 580.92 L300.58 580.40 L301.40 579.87 L302.22 579.34 L303.04 578.80 L303.86 578.27 L304.68 577.74 L305.50 577.20 L306.32 576.67 L307.14 576.13 L307.95 575.60 L308.77 575.06 L309.59 574.52 L310.41 573.98 L311.22 573.44 L312.04 572.91 L312.86 572.37 L313.67 571.83 L314.49 571.29 L315.30 570.74 L316.12 570.20 L316.93 569.66 L317.74 569.12 L318.56 568.57 L319.37 568.03 L320.18 567.49 L320.99 566.94 L321.81 566.40 L322.62 565.85 L323.43 565.30 L324.24 564.76 L325.05 564.21 L325.86 563.66 L326.67 563.11 L327.48 562.56 L328.29 562.01 L329.10 561.46 L329.90 560.91 L330.71 560.36 L331.52 559.81 L332.33 559.26 L333.13 558.70 L333.94 558.15 L334.75 557.60 L335.55 557.04 L336.36 556.49 L337.16 555.93 L337.96 555.38 L338.77 554.82 L339.57 554.26 L340.38 553.70 L341.18 553.14 L341.98 552.59 L342.78 552.03 L343.58 551.47 L344.39 550.91 L345.19 550.34 L345.99 549.78 L346.79 549.22 L347.59 548.66 L348.39 548.09 L349.18 547.53 L349.98 546.96 L350.78 546.40 L351.58 545.83 L352.38 545.26 L353.17 544.70 L353.97 544.13 L354.77 543.56 L355.56 542.99 L356.36 542.42 L357.15 541.85 L357.95 541.28 L358.74 540.70 L359.53 540.13 L360.33 539.56 L361.12 538.98 L361.91 538.41 L362.70 537.84 L363.50 537.26 L364.29 536.68 L365.08 536.11 L365.87 535.53 L366.66 534.95 L367.45 534.38 L368.24 533.80 L369.02 533.22 L369.81 532.64 L370.60 532.06 L371.39 531.48 L372.18 530.90 L372.96 530.31 L373.75 529.73 L374.53 529.15 L375.32 528.56 L376.10 527.98 L376.89 527.40 L377.67 526.81 L378.46 526.22 L379.24 525.64 L380.02 525.05 L380.81 524.46 L381.59 523.88 L382.37 523.29 L383.15 522.70 L383.93 522.11 L384.71 521.52 L385.49 520.93 L386.27 520.34 L387.05 519.74 L387.83 519.15 L388.61 518.56 L389.38 517.97 L390.16 517.37 L390.94 516.78 L391.71 516.18 L392.49 515.59 L393.26 514.99 L394.04 514.39 L394.81 513.79 L395.59 513.20 L396.36 512.60 L397.14 512.00 L397.91 511.40 L398.68 510.80 L399.45 510.20 L400.22 509.60 L401.00 508.99 L401.77 508.39 L402.54 507.79 L403.31 507.19 L404.07 506.58 L404.84 505.98 L405.61 505.37 L406.38 504.77 L407.15 504.16 L407.91 503.55 L408.68 502.94 L409.45 502.34 L410.21 501.73 L410.98 501.12 L411.74 500.51 L412.51 499.90 L413.27 499.29 L414.03 498.68 L414.80 498.06 L415.56 497.45 L416.32 496.84 L417.08 496.22 L417.84 495.61 L418.60 495.00 L419.36 494.39 L420.12 493.78 L420.88 493.16 L421.64 492.56 L422.40 491.95 L423.16 491.34 L423.92 490.73 L424.67 490.12 L425.43 489.51 L426.18 488.90 L426.94 488.29 L427.70 487.68 L428.45 487.07 L429.20 486.45 L429.96 485.84 L430.71 485.23 L431.46 484.61 L432.22 484.00 L432.97 483.38 L433.72 482.77 L434.47 482.15 L435.22 481.54 L435.97 480.92 L436.72 480.30 L437.47 479.68 L438.22 479.06 L438.96 478.44 L439.71 477.82 L440.46 477.20 L441.20 476.58 L441.95 475.96 L442.69 475.33 L443.44 474.71 L444.18 474.09 L444.93 473.46 L445.67 472.84 L446.41 472.21 L447.16 471.59 L447.90 470.96 L448.64 470.33 L449.38 469.70 L450.12 469.08 L450.86 468.45 L451.60 467.82 L452.34 467.19 L453.08 466.56 L453.82 465.92 L454.55 465.29 L455.29 464.66 L456.03 464.03 L456.76 463.39 L457.50 462.76 L458.23 462.12 L458.97 461.49 L459.70 460.85 L460.43 460.22 L461.17 459.58 L461.90 458.94 L462.63 458.30 L463.36 457.66 L464.09 457.02 L464.82 456.38 L465.55 455.74 L466.28 455.10 L467.01 454.46 L467.74 453.82 L468.47 453.17 L469.19 452.53 L469.92 451.89 L470.65 451.24 L471.37 450.60 L472.10 449.95 L472.82 449.30 L473.55 448.66 L474.27 448.01 L474.99 447.36 L475.71 446.71 L476.44 446.07 L477.16 445.42 L477.88 444.77 L478.60 444.12 L479.32 443.46 L480.04 442.81 L480.76 442.16 L481.47 441.51 L482.19 440.85 L482.91 440.20 L483.63 439.54 L484.34 438.89 L485.06 438.23 L485.77 437.58 L486.49 436.92 L487.20 436.26 L487.91 435.60 L488.62 434.94 L489.34 434.28 L490.05 433.62 L490.76 432.96 L491.47 432.30 L492.18 431.64 L492.89 430.98 L493.60 430.31 L494.31 429.65 L495.01 428.98 L495.72 428.32 L496.43 427.65 L497.13 426.99 L497.84 426.32 L498.54 425.65 L499.25 424.98 L499.95 424.32 L500.65 423.65 L501.36 422.98 L502.06 422.31 L502.76 421.64 L503.46 420.96 L504.16 420.29 L504.86 419.62 L505.56 418.94 L506.26 418.27 L506.96 417.60 L507.65 416.92 L508.35 416.24 L509.05 415.57 L509.74 414.89 L510.44 414.21 L511.13 413.53 L511.83 412.85 L512.52 412.18 L513.21 411.49 L513.90 410.81 L514.60 410.13 L515.29 409.45 L515.98 408.77 L516.67 408.08 L517.36 407.40 L518.04 406.72 L518.73 406.03 L519.42 405.34 L520.11 404.66 L520.79 403.97 L521.48 403.28 L522.16 402.60 L522.85 401.91 L523.53 401.22 L524.22 400.53 L524.90 399.84 L525.58 399.14 L526.26 398.45 L526.94 397.76 L527.62 397.07 L528.30 396.37 L528.98 395.68 L529.66 394.98 L530.34 394.28 L531.01 393.58 L531.69 392.89 L532.37 392.19 L533.04 391.49 L533.72 390.79 L534.39 390.08 L535.06 389.38 L535.74 388.68 L536.41 387.98 L537.08 387.27 L537.75 386.57 L538.42 385.87 L539.09 385.16 L539.76 384.45 L540.43 383.75 L541.10 383.04 L541.77 382.33 L542.43 381.62 L543.10 380.91 L543.76 380.20 L544.43 379.49 L545.09 378.78 L545.76 378.07 L546.42 377.36 L547.08 376.65 L547.74 375.93 L548.40 375.22 L549.06 374.50 L549.72 373.79 L550.38 373.07 L551.04 372.36 L551.70 371.64 L552.36 370.92 L553.01 370.20 L553.67 369.48 L554.32 368.76 L554.98 368.04 L555.63 367.32 L556.29 366.60 L556.94 365.88 L557.59 365.15 L558.24 364.43 L558.89 363.71 L559.54 362.98 L560.19 362.26 L560.84 361.53 L561.49 360.80 L562.14 360.08 L562.78 359.35 L563.43 358.62 L564.07 357.89 L564.72 357.16 L565.36 356.43 L566.01 355.70 L566.65 354.97 L567.29 354.23 L567.93 353.50 L568.57 352.77 L569.21 352.03 L569.85 351.30 L570.49 350.56 L571.13 349.83 L571.77 349.09 L572.41 348.35 L573.04 347.61 L573.68 346.87 L574.31 346.13 L574.95 345.39 L575.58 344.65 L576.21 343.91 L576.84 343.17 L577.48 342.43 L578.11 341.68 L578.74 340.94 L579.37 340.19 L579.99 339.45 L580.62 338.70 L581.25 337.96 L581.88 337.21 L582.50 336.46 L583.13 335.71 L583.75 334.96 L584.38 334.21 L585.00 333.46 L585.62 332.71 L586.24 331.96 L586.86 331.21 L587.48 330.46 L588.10 329.70 L588.72 328.95 L589.34 328.19 L589.96 327.44 L590.58 326.68 L591.19 325.92 L591.81 325.17 L592.42 324.41 L593.04 323.65 L593.65 322.89 L594.26 322.13 L594.87 321.37 L595.49 320.61 L596.10 319.84 L596.71 319.08 L597.32 318.32 L597.92 317.55 L598.53 316.79 L599.14 316.02 L599.75 315.25 L600.35 314.49 L600.96 313.72 L601.56 312.94 L602.16 312.17 L602.77 311.40 L603.37 310.63 L603.97 309.85 L604.57 309.08 L605.17 308.30 L605.77 307.52 L606.37 306.75 L606.96 305.97 L607.56 305.19 L608.16 304.41 L608.75 303.63 L609.35 302.85 L609.94 302.07 L610.54 301.29 L611.13 300.51 L611.72 299.73 L612.31 298.95 L612.90 298.16 L613.49 297.38 L614.08 296.59 L614.67 295.81 L615.25 295.02 L615.84 294.24 L616.43 293.45 L617.01 292.67 L617.60 291.88 L618.18 291.09 L618.76 290.30 L619.35 289.51 L619.93 288.72 L620.51 287.93 L621.09 287.14 L621.67 286.35 L622.24 285.56 L622.82 284.77 L623.40 283.98 L623.97 283.19 L624.55 282.39 L625.12 281.60 L625.70 280.81 L626.27 280.01 L626.84 279.22 L627.41 278.42 L627.99 277.63 L628.56 276.83 L629.12 276.04 L629.69 275.24 L630.26 274.44 L630.83 273.65 L631.39 272.85 L631.96 272.05 L632.52 271.25 L633.09 270.45 L633.65 269.65 L634.21 268.85 L634.77 268.05 L635.33 267.25 L635.89 266.45 L636.45 265.65 L637.01 264.85 L637.57 264.05 L638.12 263.25 L638.68 262.45 L639.23 261.65 L639.79 260.84 L640.34 260.04 L640.89 259.24 L641.45 258.43 L642.00 257.63 L642.55 256.83 L643.10 256.02 L643.65 255.22 L644.19 254.41 L644.74 253.61 L645.29 252.80 L645.83 252.00 L646.38 251.19 L646.92 250.39 L647.46 249.58 L648.01 248.77 L648.55 247.97 L649.09 247.16 L649.63 246.36 L650.17 245.56 L650.70 244.75 L651.24 243.95 L651.78 243.15 L652.31 242.34 L652.85 241.54 L653.38 240.74 L653.92 239.94 L654.45 239.13 L654.98 238.33 L655.51 237.53 L656.04 236.72 L656.57 235.92 L657.10 235.12 L657.62 234.31 L658.15 233.51 L658.68 232.71 L659.20 231.90 L659.72 231.10 L660.25 230.30 L660.77 229.49 L661.29 228.69 L661.81 227.88 L662.33 227.08 L662.85 226.27 L663.37 225.47 L663.89 224.67 L664.40 223.86 L664.92 223.06 L665.43 222.25 L665.95 221.45 L666.46 220.64 L666.97 219.84 L667.48 219.03 L667.99 218.23 L668.50 217.42 L669.01 216.62 L669.52 215.81 L670.03 215.01 L670.53 214.20 L671.04 213.40 L671.54 212.59 L672.04 211.79 L672.55 210.98 L673.05 210.18 L673.55 209.38 L674.05 208.57 L674.55 207.77 L675.05 206.96 L675.55 206.16 L676.05 205.35 L676.55 204.55 L677.05 203.75 L677.54 202.94 L678.04 202.14 L678.54 201.33 L679.04 200.53 L679.53 199.71 L680.03 198.90 L680.53 198.08 L681.03 197.26 L681.53 196.44 L682.03 195.62 L682.53 194.79 L683.03 193.96 L683.53 193.14 L684.03 192.31 L684.54 191.49 L685.04 190.66 L685.55 189.84 L686.05 189.01 L686.56 188.19 L687.07 187.37 L687.58 186.55 L688.09 185.72 L688.60 184.90 L689.12 184.08 L689.63 183.26 L690.15 182.45 L690.67 181.63 L691.19 180.81 L691.71 179.99 L692.24 179.18 L692.76 178.36 L693.29 177.55 L693.82 176.73 L694.36 175.92 L694.89 175.11 L695.43 174.30 L695.97 173.49 L696.51 172.68 L697.06 171.87 L697.61 171.06 L698.16 170.25 L698.71 169.45 L699.27 168.64 L699.83 167.84 L700.39 167.04 L700.95 166.23 L701.52 165.43 L702.09 164.63 L702.67 163.83 L703.25 163.04 L703.83 162.25 L704.41 161.47 L705.00 160.70 L705.60 159.93 L706.19 159.17 L706.79 158.41 L707.40 157.66 L708.01 156.92 L708.62 156.17 L709.23 155.43 L709.85 154.69 L710.48 153.95 L711.11 153.21 L711.74 152.47 L712.38 151.73 L713.02 150.98 L713.67 150.23 L714.32 149.48 L714.98 148.73 L715.64 147.98 L716.31 147.23 L716.98 146.48 L717.66 145.75 L718.35 145.02 L719.04 144.31 L719.75 143.60 L720.46 142.92 L721.18 142.25 L721.91 141.61 L722.65 140.99 L723.41 140.39 L724.17 139.82 L724.95 139.29 L725.74 138.78 L726.54 138.31 L727.36 137.88 L728.19 137.49 L729.04 137.14 L729.90 136.83 L730.78 136.57 L731.69 136.38 L732.60 136.24 L733.53 136.15 L734.45 136.11 L735.38 136.12 L736.30 136.19 L737.22 136.31 L738.13 136.49 L739.02 136.72 L739.87 136.99 L740.70 137.30 L741.51 137.66 L742.30 138.08 L743.06 138.54 L743.80 139.05 L744.51 139.60 L745.20 140.19 L745.87 140.83 L746.51 141.50 L747.14 142.21 L747.74 142.95 L748.32 143.72 L748.88 144.53 L749.42 145.36 L749.95 146.22 L750.46 147.09 L750.96 147.99 L751.44 148.90 L751.90 149.82 L752.35 150.76 L752.79 151.70 L753.20 152.65 L753.61 153.61 L753.99 154.57 L754.37 155.53 L754.73 156.49 L755.08 157.46 L755.42 158.43 L755.74 159.39 L756.06 160.36 L756.38 161.33 L756.69 162.29 L756.99 163.25 L757.28 164.22 L757.57 165.18 L757.85 166.14 L758.13 167.10 L758.40 168.06 L758.66 169.02 L758.92 169.98 L759.18 170.93 L759.43 171.89 L759.68 172.85 L759.92 173.80 L760.16 174.76 L760.39 175.71 L760.62 176.66 L760.85 177.62 L761.07 178.57 L761.29 179.52 L761.50 180.47 L761.71 181.43 L761.91 182.38 L762.11 183.33 L762.31 184.28 L762.50 185.23 L762.69 186.18 L762.88 187.13 L763.06 188.08 L763.25 189.03 L763.42 189.98 L763.60 190.93 L763.77 191.88 L763.94 192.83 L764.11 193.78 L764.28 194.73 L764.44 195.68 L764.60 196.63 L764.77 197.58 L764.93 198.53 L765.09 199.48 L765.25 200.43 L765.41 201.39 L765.57 202.34 L765.73 203.29 L765.89 204.24 L766.05 205.20 L766.21 206.15 L766.37 207.10 L766.52 208.06 L766.68 209.01 L766.83 209.96 L766.98 210.92 L767.14 211.87 L767.29 212.83 L767.44 213.79 L767.58 214.74 L767.73 215.70 L767.88 216.65 L768.02 217.61 L768.17 218.57 L768.31 219.53 L768.45 220.48 L768.59 221.44 L768.73 222.40 L768.87 223.36 L769.01 224.32 L769.14 225.28 L769.28 226.24 L769.41 227.20 L769.55 228.16 L769.68 229.12 L769.81 230.08 L769.94 231.04 L770.07 232.00 L770.20 232.96 L770.33 233.92 L770.46 234.88 L770.58 235.84 L770.71 236.81 L770.83 237.77 L770.95 238.73 L771.07 239.69 L771.20 240.66 L771.32 241.62 L771.44 242.58 L771.55 243.55 L771.67 244.51 L771.79 245.47 L771.90 246.44 L772.02 247.40 L772.13 248.37 L772.25 249.33 L772.36 250.30 L772.47 251.26 L772.58 252.23 L772.69 253.20 L772.80 254.16 L772.91 255.13 L773.02 256.09 L773.12 257.06 L773.23 258.03 L773.34 258.99 L773.44 259.96 L773.54 260.93 L773.65 261.90 L773.75 262.86 L773.85 263.83 L773.95 264.80 L774.05 265.77 L774.15 266.74 L774.25 267.70 L774.35 268.67 L774.44 269.64 L774.54 270.61 L774.64 271.58 L774.73 272.55 L774.83 273.52 L774.92 274.49 L775.01 275.46 L775.11 276.43 L775.20 277.40 L775.29 278.37 L775.38 279.34 L775.47 280.31 L775.56 281.28 L775.65 282.25 L775.74 283.22 L775.82 284.19 L775.91 285.16 L776.00 286.13 L776.08 287.10 L776.17 288.08 L776.25 289.05 L776.34 290.02 L776.42 290.99 L776.50 291.96 L776.59 292.93 L776.67 293.91 L776.75 294.88 L776.83 295.85 L776.91 296.82 L776.99 297.79 L777.07 298.77 L777.15 299.74 L777.23 300.71 L777.31 301.68 L777.39 302.66 L777.46 303.63 L777.54 304.60 L777.62 305.58 L777.69 306.55 L777.77 307.52 L777.84 308.49 L777.92 309.47 L777.99 310.44 L778.07 311.41 L778.14 312.39 L778.21 313.36 L778.29 314.33 L778.36 315.31 L778.43 316.28 L778.50 317.25 L778.58 318.23 L778.65 319.20 L778.72 320.17 L778.79 321.15 L778.86 322.12 L778.93 323.10 L779.00 324.07 L779.07 325.04 L779.14 326.02 L779.21 326.99 L779.27 327.96 L779.34 328.94 L779.41 329.91 L779.48 330.89 L779.55 331.86 L779.61 332.83 L779.68 333.81 L779.75 334.78 L779.81 335.75 L779.88 336.73 L779.95 337.70 L780.01 338.67 L780.08 339.65 L780.14 340.62 L780.21 341.60 L780.27 342.57 L780.34 343.54 L780.40 344.52 L780.47 345.49 L780.53 346.46 L780.60 347.44 L780.66 348.41 L780.73 349.38 L780.79 350.36 L780.85 351.33 L780.92 352.30 L780.98 353.28 L781.04 354.25 L781.10 355.22 L781.17 356.20 L781.23 357.17 L781.29 358.15 L781.35 359.12 L781.41 360.09 L781.48 361.07 L781.54 362.04 L781.60 363.01 L781.66 363.99 L781.72 364.96 L781.78 365.93 L781.84 366.91 L781.90 367.88 L781.96 368.85 L782.02 369.83 L782.08 370.80 L782.14 371.77 L782.20 372.75 L782.26 373.72 L782.32 374.69 L782.38 375.67 L782.43 376.64 L782.49 377.61 L782.55 378.58 L782.61 379.56 L782.67 380.53 L782.72 381.50 L782.78 382.48 L782.84 383.45 L782.90 384.42 L782.95 385.40 L783.01 386.37 L783.07 387.34 L783.12 388.32 L783.18 389.29 L783.23 390.26 L783.29 391.24 L783.34 392.21 L783.40 393.18 L783.46 394.16 L783.51 395.13 L783.57 396.10 L783.62 397.07 L783.67 398.05 L783.73 399.02 L783.78 399.99 L783.84 400.97 L783.89 401.94 L783.94 402.91 L784.00 403.89 L784.05 404.86 L784.10 405.83 L784.16 406.81 L784.21 407.78 L784.26 408.75 L784.31 409.72 L784.37 410.70 L784.42 411.67 L784.47 412.64 L784.52 413.62 L784.57 414.59 L784.63 415.56 L784.68 416.54 L784.73 417.51 L784.78 418.48 L784.83 419.45 L784.88 420.43 L784.93 421.40 L784.98 422.37 L785.03 423.35 L785.08 424.32 L785.13 425.29 L785.18 426.26 L785.23 427.24 L785.28 428.21 L785.33 429.18 L785.38 430.16 L785.43 431.13 L785.47 432.10 L785.52 433.08 L785.57 434.05 L785.62 435.02 L785.67 435.99 L785.72 436.97 L785.76 437.94 L785.81 438.91 L785.86 439.89 L785.91 440.86 L785.95 441.83 L786.00 442.80 L786.05 443.78 L786.09 444.75 L786.14 445.72 L786.19 446.70 L786.23 447.67 L786.28 448.64 L786.32 449.61 L786.37 450.59 L786.41 451.56 L786.46 452.53 L786.50 453.51 L786.55 454.48 L786.59 455.45 L786.64 456.42 L786.68 457.40 L786.73 458.37 L786.77 459.34 L786.82 460.31 L786.86 461.29 L786.91 462.26 L786.95 463.23 L786.99 464.21 L787.04 465.18 L787.08 466.15 L787.12 467.12 L787.17 468.10 L787.21 469.07 L787.25 470.04 L787.29 471.02 L787.34 471.99 L787.38 472.96 L787.42 473.93 L787.46 474.91 L787.51 475.88 L787.55 476.85 L787.59 477.83 L787.63 478.80 L787.67 479.77 L787.71 480.74 L787.75 481.72 L787.79 482.69 L787.84 483.66 L787.88 484.64 L787.92 485.61 L787.96 486.58 L788.00 487.55 L788.04 488.53 L788.08 489.50 L788.12 490.47 L788.16 491.45 L788.20 492.42 L788.24 493.39 L788.28 494.36 L788.32 495.34 L788.35 496.31 L788.39 497.28 L788.43 498.26 L788.47 499.23 L788.51 500.20 L788.55 501.17 L788.59 502.15 L788.62 503.12 L788.66 504.09 L788.70 505.07 L788.74 506.04 L788.78 507.01 L788.81 507.98 L788.85 508.96 L788.89 509.93 L788.93 510.90 L788.96 511.88 L789.00 512.85 L789.04 513.82 L789.07 514.79 L789.11 515.77 L789.15 516.74 L789.18 517.71 L789.22 518.69 L789.26 519.66 L789.29 520.63 L789.33 521.60 L789.36 522.58 L789.40 523.55 L789.43 524.52 L789.47 525.50 L789.51 526.47 L789.54 527.44 L789.58 528.41 L789.61 529.39 L789.65 530.36 L789.68 531.33 L789.71 532.31 L789.75 533.28 L789.78 534.25 L789.82 535.23 L789.85 536.20 L789.89 537.17 L789.92 538.14 L789.95 539.12 L789.99 540.09 L790.02 541.06 L790.06 542.04 L790.09 543.01 L790.12 543.98 L790.16 544.96 L790.19 545.93 L790.22 546.90 L790.25 547.88 L790.29 548.85 L790.32 549.82 L790.35 550.79 L790.38 551.77 L790.42 552.74 L790.45 553.71 L790.48 554.69 L790.51 555.66 L790.55 556.63 L790.58 557.61 L790.61 558.58 L790.64 559.55 L790.67 560.53 L790.70 561.50 L790.74 562.47 L790.77 563.45 L790.80 564.42 L790.83 565.39 L790.86 566.37 L790.89 567.34 L790.92 568.31 L790.95 569.28 L790.98 570.26 L791.01 571.23 L791.04 572.20 L791.07 573.18 L791.11 574.15 L791.14 575.12 L791.17 576.10 L791.20 577.07 L791.23 578.04 L791.26 579.02 L791.28 579.99 L791.31 580.96 L791.34 581.94 L791.37 582.91 L791.40 583.88 L791.43 584.86 L791.46 585.83 L791.49 586.80 L791.52 587.78 L791.55 588.75 L791.58 589.72 L791.61 590.70 L791.63 591.67 L791.66 592.65 L791.69 593.62 L791.72 594.59 L791.75 595.57 L791.78 596.54 L791.81 597.51 L791.83 598.49 L791.86 599.46 L791.89 600.43 L791.92 601.41 L791.94 602.38 L791.97 603.35 L792.00 604.33 L792.03 605.30 L792.06 606.27 L792.08 607.25 L792.11 608.22 L792.14 609.20 L792.16 610.17 L792.19 611.14 L792.22 612.12 L792.25 613.09 L792.27 614.06 L792.30 615.04 L792.33 616.01 L792.35 616.99 L792.38 617.96 L792.41 618.93 L792.43 619.91 L792.46 620.88 L792.48 621.85 L792.51 622.83 L792.54 623.80 L792.56 624.78 L792.59 625.75 L792.62 626.72 L792.64 627.70 L792.67 628.67 L792.69 629.65 L792.72 630.62 L792.74 631.59 L792.77 632.57 L792.80 633.54 L792.82 634.52 L792.85 635.49 L792.87 636.46 L792.90 637.44 L792.92 638.41 L792.95 639.39 L792.97 640.36 L793.00 641.33 L793.02 642.31 L793.05 643.28 L793.07 644.26 L793.10 645.23 L793.12 646.20 L793.15 647.18 L793.17 648.15 L793.19 649.13 L793.22 650.10 L793.24 651.08 L793.27 652.05 L793.29 653.02 L793.32 654.00 L793.34 654.97 L793.36 655.95 L793.39 656.92 L793.41 657.90 L793.44 658.87 L793.46 659.84 L793.48 660.82 L793.51 661.79 L793.53 662.77 L793.56 663.74 L793.58 664.72 L793.60 665.69 L793.63 666.67 L793.65 667.64 L793.67 668.62 L793.70 669.59 L793.72 670.56 L793.74 671.54 L793.77 672.51 L793.79 673.49 L793.81 674.46 L793.84 675.44 L793.86 676.41 L793.88 677.39 L793.91 678.36 L793.93 679.34 L793.95 680.31 L793.98 681.29 L794.00 682.26 L794.02 683.24 L794.04 684.21 L794.07 685.19 L794.09 686.16 L794.11 687.14 L794.13 688.11 L794.16 689.09 L794.18 690.06 L794.20 691.04 L794.22 692.01 L794.25 692.99 L794.27 693.96 L794.29 694.94 L794.31 695.91 L794.34 696.89 L794.36 697.86 L794.38 698.84 L794.40 699.81" stroke="#f00" stroke-dasharray="11.4 6.68" stroke-dashoffset="13.11"/>
<path d="M105.01 685.80 L105.52 685.57 L106.12 685.28 L106.82 684.95 L107.62 684.57 L108.52 684.14 L109.43 683.71 L110.33 683.28 L111.23 682.85 L112.13 682.42 L113.03 681.99 L113.94 681.56 L114.84 681.13 L115.74 680.70 L116.64 680.27 L117.54 679.83 L118.44 679.40 L119.34 678.97 L120.24 678.53 L121.14 678.10 L122.04 677.66 L122.94 677.23 L123.84 676.79 L124.74 676.35 L125.64 675.92 L126.54 675.48 L127.44 675.04 L128.34 674.60 L129.24 674.17 L130.13 673.73 L131.03 673.29 L131.93 672.85 L132.83 672.41 L133.73 671.96 L134.62 671.52 L135.52 671.08 L136.42 670.64 L137.32 670.19 L138.21 669.75 L139.11 669.31 L140.01 668.86 L140.90 668.42 L141.80 667.97 L142.69 667.53 L143.59 667.08 L144.48 666.63 L145.38 666.19 L146.27 665.74 L147.17 665.29 L148.06 664.84 L148.96 664.39 L149.85 663.94 L150.75 663.49 L151.64 663.04 L152.53 662.59 L153.43 662.14 L154.32 661.68 L155.21 661.23 L156.10 660.78 L157.00 660.32 L157.89 659.87 L158.78 659.41 L159.67 658.96 L160.56 658.50 L161.45 658.04 L162.34 657.59 L163.24 657.13 L164.13 656.67 L165.02 656.21 L165.91 655.75 L166.79 655.29 L167.68 654.83 L168.57 654.37 L169.46 653.91 L170.35 653.44 L171.24 652.97 L172.13 652.51 L173.01 652.04 L173.90 651.57 L174.79 651.10 L175.67 650.62 L176.56 650.15 L177.45 649.68 L178.33 649.21 L179.22 648.73 L180.10 648.26 L180.99 647.78 L181.87 647.31 L182.76 646.83 L183.64 646.35 L184.53 645.88 L185.41 645.40 L186.29 644.92 L187.18 644.44 L188.06 643.96 L188.94 643.48 L189.82 643.00 L190.71 642.52 L191.59 642.04 L192.47 641.56 L193.35 641.07 L194.23 640.59 L195.11 640.11 L195.99 639.62 L196.87 639.14 L197.75 638.65 L198.63 638.16 L199.51 637.68 L200.39 637.19 L201.26 636.70 L202.14 636.21 L203.02 635.73 L203.90 635.24 L204.77 634.75 L205.65 634.25 L206.52 633.76 L207.40 633.27 L208.28 632.78 L209.15 632.29 L210.02 631.79 L210.90 631.30 L211.77 630.80 L212.65 630.31 L213.52 629.81 L214.39 629.32 L215.27 628.82 L216.14 628.32 L217.01 627.82 L217.88 627.32 L218.75 626.82 L219.62 626.32 L220.49 625.82 L221.36 625.32 L222.23 624.82 L223.10 624.32 L223.97 623.81 L224.84 623.31 L225.71 622.81 L226.57 622.30 L227.44 621.80 L228.31 621.29 L229.17 620.78 L230.04 620.28 L230.91 619.77 L231.77 619.26 L232.64 618.75 L233.50 618.24 L234.37 617.73 L235.23 617.22 L236.09 616.71 L236.96 616.19 L237.82 615.68 L238.68 615.17 L239.54 614.65 L240.40 614.14 L241.26 613.62 L242.12 613.11 L242.98 612.59 L243.84 612.07 L244.70 611.56 L245.56 611.04 L246.42 610.52 L247.28 610.00 L248.14 609.48 L248.99 608.96 L249.85 608.44 L250.71 607.92 L251.56 607.39 L252.42 606.87 L253.27 606.35 L254.13 605.82 L254.98 605.29 L255.83 604.77 L256.69 604.24 L257.54 603.71 L258.39 603.19 L259.24 602.66 L260.10 602.13 L260.95 601.60 L261.80 601.07 L262.65 600.54 L263.50 600.01 L264.35 599.47 L265.19 598.94 L266.04 598.41 L266.89 597.87 L267.74 597.34 L268.58 596.80 L269.43 596.26 L270.28 595.73 L271.12 595.19 L271.97 594.65 L272.81 594.11 L273.65 593.57 L274.50 593.03 L275.34 592.49 L276.18 591.95 L277.02 591.40 L277.87 590.86 L278.71 590.32 L279.55 589.77 L280.39 589.23 L281.23 588.68 L282.07 588.13 L282.90 587.59 L283.74 587.04 L284.58 586.49 L285.42 585.94 L286.25 585.39 L287.09 584.84 L287.92 584.29 L288.76 583.74 L289.59 583.18 L290.43 582.63 L291.26 582.08 L292.09 581.52 L292.93 580.96 L293.76 580.41 L294.59 579.85 L295.42 579.29 L296.25 578.73 L297.08 578.17 L297.91 577.61 L298.74 577.05 L299.56 576.49 L300.39 575.92 L301.22 575.35 L302.04 574.78 L302.87 574.21 L303.70 573.64 L304.52 573.07 L305.34 572.49 L306.17 571.92 L306.99 571.34 L307.81 570.76 L308.64 570.19 L309.46 569.61 L310.28 569.03 L311.10 568.45 L311.92 567.87 L312.74 567.29 L313.56 566.71 L314.37 566.13 L315.19 565.54 L316.01 564.96 L316.82 564.38 L317.64 563.79 L318.45 563.20 L319.27 562.62 L320.08 562.03 L320.90 561.44 L321.71 560.85 L322.52 560.26 L323.33 559.67 L324.14 559.08 L324.95 558.49 L325.76 557.90 L326.57 557.30 L327.38 556.71 L328.19 556.12 L329.00 555.52 L329.80 554.92 L330.61 554.33 L331.41 553.73 L332.22 553.13 L333.02 552.53 L333.83 551.93 L334.63 551.33 L335.43 550.73 L336.23 550.13 L337.04 549.52 L337.84 548.92 L338.64 548.31 L339.44 547.71 L340.23 547.10 L341.03 546.50 L341.83 545.89 L342.63 545.28 L343.42 544.67 L344.22 544.06 L345.01 543.45 L345.81 542.84 L346.60 542.23 L347.39 541.61 L348.19 541.00 L348.98 540.38 L349.77 539.77 L350.56 539.15 L351.35 538.53 L352.14 537.91 L352.93 537.29 L353.71 536.67 L354.50 536.05 L355.29 535.43 L356.07 534.80 L356.86 534.18 L357.64 533.55 L358.43 532.93 L359.21 532.30 L359.99 531.67 L360.77 531.05 L361.55 530.42 L362.33 529.79 L363.11 529.16 L363.89 528.53 L364.67 527.89 L365.45 527.26 L366.23 526.63 L367.00 525.99 L367.78 525.36 L368.55 524.72 L369.33 524.08 L370.10 523.45 L370.87 522.81 L371.64 522.17 L372.41 521.53 L373.19 520.89 L373.95 520.25 L374.72 519.60 L375.49 518.96 L376.26 518.32 L377.03 517.67 L377.79 517.02 L378.56 516.38 L379.32 515.73 L380.09 515.08 L380.85 514.43 L381.61 513.78 L382.38 513.13 L383.14 512.48 L383.90 511.83 L384.66 511.17 L385.42 510.52 L386.17 509.86 L386.93 509.21 L387.69 508.55 L388.44 507.89 L389.20 507.24 L389.95 506.58 L390.71 505.92 L391.46 505.26 L392.21 504.59 L392.96 503.93 L393.71 503.27 L394.46 502.60 L395.21 501.94 L395.96 501.27 L396.71 500.61 L397.46 499.94 L398.20 499.27 L398.95 498.60 L399.69 497.93 L400.44 497.26 L401.18 496.59 L401.92 495.91 L402.66 495.24 L403.40 494.56 L404.14 493.89 L404.88 493.21 L405.62 492.54 L406.36 491.86 L407.10 491.18 L407.83 490.50 L408.57 489.82 L409.30 489.14 L410.04 488.45 L410.77 487.77 L411.50 487.09 L412.23 486.40 L412.96 485.72 L413.69 485.03 L414.42 484.34 L415.15 483.65 L415.88 482.96 L416.60 482.27 L417.33 481.58 L418.05 480.89 L418.78 480.20 L419.50 479.51 L420.22 478.82 L420.94 478.13 L421.66 477.44 L422.38 476.75 L423.10 476.06 L423.82 475.37 L424.54 474.68 L425.25 473.99 L425.97 473.30 L426.68 472.61 L427.40 471.91 L428.11 471.22 L428.82 470.52 L429.53 469.83 L430.25 469.13 L430.95 468.43 L431.66 467.73 L432.37 467.03 L433.08 466.33 L433.78 465.63 L434.49 464.93 L435.19 464.22 L435.90 463.52 L436.60 462.81 L437.30 462.10 L438.00 461.40 L438.70 460.69 L439.40 459.98 L440.10 459.27 L440.80 458.56 L441.50 457.84 L442.19 457.13 L442.89 456.42 L443.58 455.70 L444.28 454.99 L444.97 454.27 L445.66 453.55 L446.35 452.84 L447.04 452.12 L447.73 451.40 L448.42 450.67 L449.11 449.95 L449.79 449.23 L450.48 448.51 L451.16 447.78 L451.85 447.06 L452.53 446.33 L453.21 445.60 L453.90 444.88 L454.58 444.15 L455.26 443.42 L455.93 442.69 L456.61 441.95 L457.29 441.22 L457.97 440.49 L458.64 439.76 L459.32 439.02 L459.99 438.29 L460.66 437.55 L461.34 436.81 L462.01 436.07 L462.68 435.33 L463.35 434.59 L464.02 433.85 L464.68 433.11 L465.35 432.37 L466.02 431.63 L466.68 430.88 L467.35 430.14 L468.01 429.39 L468.67 428.65 L469.34 427.90 L470.00 427.15 L470.66 426.40 L471.32 425.65 L471.98 424.89 L472.63 424.14 L473.29 423.39 L473.95 422.63 L474.60 421.87 L475.26 421.12 L475.91 420.36 L476.56 419.60 L477.21 418.84 L477.87 418.08 L478.52 417.32 L479.17 416.56 L479.81 415.79 L480.46 415.03 L481.11 414.27 L481.75 413.50 L482.40 412.74 L483.04 411.97 L483.69 411.20 L484.33 410.43 L484.97 409.67 L485.61 408.90 L486.25 408.13 L486.89 407.35 L487.53 406.58 L488.17 405.81 L488.81 405.04 L489.44 404.26 L490.08 403.49 L490.71 402.71 L491.35 401.94 L491.98 401.16 L492.61 400.38 L493.24 399.60 L493.87 398.82 L494.50 398.04 L495.13 397.26 L495.76 396.48 L496.38 395.70 L497.01 394.92 L497.63 394.13 L498.26 393.35 L498.88 392.56 L499.50 391.78 L500.13 390.99 L500.75 390.21 L501.37 389.42 L501.99 388.63 L502.60 387.84 L503.22 387.05 L503.84 386.26 L504.46 385.47 L505.07 384.68 L505.68 383.88 L506.30 383.09 L506.91 382.30 L507.52 381.50 L508.13 380.71 L508.74 379.91 L509.35 379.11 L509.96 378.31 L510.57 377.52 L511.18 376.72 L511.78 375.92 L512.39 375.12 L512.99 374.32 L513.60 373.51 L514.20 372.71 L514.80 371.91 L515.40 371.10 L516.00 370.30 L516.60 369.49 L517.20 368.68 L517.80 367.87 L518.39 367.07 L518.99 366.26 L519.58 365.45 L520.18 364.63 L520.77 363.82 L521.37 363.01 L521.96 362.20 L522.55 361.38 L523.14 360.57 L523.73 359.75 L524.32 358.94 L524.90 358.12 L525.49 357.31 L526.08 356.49 L526.66 355.67 L527.25 354.85 L527.83 354.03 L528.41 353.21 L529.00 352.39 L529.58 351.57 L530.16 350.75 L530.74 349.93 L531.32 349.10 L531.89 348.28 L532.47 347.46 L533.05 346.63 L533.62 345.81 L534.20 344.98 L534.77 344.15 L535.35 343.33 L535.92 342.50 L536.49 341.67 L537.06 340.84 L537.63 340.01 L538.20 339.18 L538.77 338.35 L539.33 337.52 L539.90 336.68 L540.47 335.85 L541.03 335.01 L541.59 334.17 L542.16 333.33 L542.72 332.49 L543.28 331.65 L543.84 330.80 L544.40 329.96 L544.96 329.12 L545.52 328.27 L546.08 327.43 L546.63 326.58 L547.19 325.74 L547.75 324.89 L548.30 324.04 L548.85 323.20 L549.41 322.35 L549.96 321.50 L550.51 320.65 L551.06 319.80 L551.61 318.95 L552.16 318.10 L552.70 317.25 L553.25 316.40 L553.80 315.54 L554.34 314.69 L554.89 313.84 L555.43 312.99 L555.97 312.13 L556.52 311.28 L557.06 310.42 L557.60 309.57 L558.14 308.71 L558.68 307.85 L559.21 307.00 L559.75 306.14 L560.29 305.28 L560.82 304.42 L561.36 303.56 L561.89 302.70 L562.42 301.84 L562.96 300.98 L563.49 300.12 L564.02 299.26 L564.55 298.40 L565.08 297.54 L565.61 296.67 L566.13 295.81 L566.66 294.95 L567.19 294.08 L567.71 293.22 L568.24 292.35 L568.76 291.49 L569.28 290.62 L569.80 289.76 L570.33 288.90 L570.85 288.03 L571.37 287.17 L571.88 286.30 L572.40 285.44 L572.92 284.58 L573.44 283.71 L573.95 282.85 L574.47 281.98 L574.98 281.12 L575.49 280.25 L576.01 279.38 L576.52 278.52 L577.03 277.65 L577.54 276.78 L578.05 275.91 L578.56 275.05 L579.06 274.18 L579.57 273.31 L580.08 272.44 L580.58 271.57 L581.09 270.70 L581.59 269.82 L582.09 268.95 L582.60 268.08 L583.10 267.21 L583.60 266.33 L584.10 265.46 L584.60 264.59 L585.10 263.71 L585.60 262.84 L586.09 261.96 L586.59 261.09 L587.08 260.21 L587.58 259.33 L588.07 258.46 L588.57 257.58 L589.06 256.70 L589.55 255.83 L590.04 254.95 L590.53 254.07 L591.02 253.19 L591.51 252.31 L592.00 251.43 L592.49 250.55 L592.97 249.67 L593.46 248.79 L593.95 247.91 L594.43 247.02 L594.91 246.14 L595.40 245.26 L595.88 244.37 L596.36 243.49 L596.84 242.61 L597.32 241.72 L597.80 240.84 L598.28 239.95 L598.76 239.07 L599.24 238.19 L599.71 237.31 L600.19 236.43 L600.66 235.55 L601.14 234.67 L601.61 233.79 L602.08 232.91 L602.56 232.04 L603.03 231.16 L603.50 230.28 L603.97 229.41 L604.44 228.53 L604.91 227.65 L605.38 226.77 L605.84 225.90 L606.31 225.02 L606.78 224.14 L607.24 223.26 L607.71 222.38 L608.17 221.50 L608.63 220.62 L609.10 219.73 L609.56 218.85 L610.02 217.97 L610.48 217.09 L610.94 216.21 L611.40 215.32 L611.86 214.44 L612.32 213.56 L612.77 212.67 L613.23 211.79 L613.68 210.90 L614.14 210.02 L614.59 209.13 L615.05 208.25 L615.50 207.36 L615.95 206.47 L616.41 205.59 L616.86 204.70 L617.31 203.81 L617.76 202.92 L618.21 202.03 L618.66 201.14 L619.10 200.26 L619.55 199.37 L620.00 198.48 L620.44 197.59 L620.89 196.70 L621.34 195.81 L621.78 194.92 L622.23 194.03 L622.67 193.14 L623.12 192.24 L623.56 191.35 L624.01 190.46 L624.45 189.57 L624.90 188.67 L625.34 187.77 L625.79 186.87 L626.23 185.97 L626.68 185.07 L627.12 184.17 L627.57 183.27 L628.02 182.37 L628.46 181.47 L628.91 180.56 L629.36 179.66 L629.81 178.76 L630.26 177.86 L630.71 176.96 L631.16 176.06 L631.61 175.16 L632.07 174.26 L632.52 173.37 L632.98 172.47 L633.43 171.57 L633.89 170.68 L634.35 169.78 L634.81 168.89 L635.27 167.99 L635.73 167.10 L636.20 166.20 L636.66 165.31 L637.13 164.42 L637.60 163.53 L638.07 162.64 L638.54 161.75 L639.02 160.86 L639.49 159.98 L639.97 159.09 L640.45 158.20 L640.93 157.32 L641.42 156.44 L641.90 155.56 L642.39 154.67 L642.88 153.79 L643.37 152.92 L643.86 152.04 L644.36 151.16 L644.86 150.29 L645.36 149.41 L645.87 148.54 L646.37 147.67 L646.88 146.80 L647.39 145.93 L647.91 145.06 L648.42 144.20 L648.94 143.34 L649.45 142.47 L649.96 141.61 L650.48 140.76 L650.99 139.90 L651.50 139.05 L652.01 138.20 L652.53 137.35 L653.04 136.50 L653.56 135.66 L654.08 134.81 L654.61 133.97 L655.14 133.13 L655.67 132.29 L656.20 131.45 L656.74 130.62 L657.28 129.79 L657.83 128.96 L658.38 128.13 L658.93 127.30 L659.49 126.48 L660.05 125.65 L660.61 124.83 L661.18 124.01 L661.75 123.20 L662.33 122.38 L662.91 121.57 L663.50 120.76 L664.09 119.95 L664.68 119.15 L665.29 118.34 L665.89 117.54 L666.51 116.75 L667.13 115.95 L667.75 115.16 L668.38 114.36 L669.01 113.58 L669.64 112.79 L670.29 112.01 L670.93 111.22 L671.58 110.45 L672.24 109.67 L672.90 108.90 L673.56 108.13 L674.24 107.38 L674.91 106.62 L675.59 105.88 L676.28 105.16 L676.98 104.44 L677.68 103.75 L678.39 103.08 L679.11 102.43 L679.83 101.80 L680.57 101.21 L681.33 100.65 L682.09 100.12 L682.87 99.64 L683.65 99.19 L684.46 98.78 L685.27 98.42 L686.10 98.12 L686.93 97.86 L687.83 97.65 L688.75 97.50 L689.66 97.40 L690.59 97.36 L691.52 97.37 L692.46 97.43 L693.40 97.55 L694.34 97.72 L695.27 97.94 L696.15 98.22 L697.02 98.53 L697.89 98.90 L698.75 99.31 L699.60 99.77 L700.45 100.27 L701.28 100.81 L702.11 101.39 L702.93 102.00 L703.74 102.65 L704.54 103.34 L705.31 104.05 L706.06 104.80 L706.78 105.57 L707.48 106.37 L708.15 107.19 L708.80 108.03 L709.42 108.89 L710.01 109.77 L710.58 110.66 L711.14 111.57 L711.68 112.49 L712.21 113.42 L712.73 114.36 L713.23 115.31 L713.72 116.25 L714.20 117.21 L714.66 118.16 L715.12 119.12 L715.57 120.08 L716.00 121.03 L716.43 121.99 L716.85 122.95 L717.27 123.91 L717.67 124.87 L718.08 125.83 L718.47 126.79 L718.86 127.75 L719.24 128.71 L719.62 129.67 L719.99 130.63 L720.36 131.59 L720.72 132.55 L721.07 133.51 L721.42 134.47 L721.77 135.43 L722.10 136.40 L722.44 137.36 L722.77 138.32 L723.09 139.28 L723.41 140.24 L723.72 141.21 L724.03 142.17 L724.34 143.13 L724.64 144.10 L724.94 145.06 L725.23 146.02 L725.52 146.99 L725.80 147.95 L726.08 148.92 L726.36 149.88 L726.64 150.85 L726.91 151.81 L727.17 152.78 L727.44 153.74 L727.70 154.71 L727.95 155.68 L728.21 156.64 L728.46 157.61 L728.71 158.58 L728.95 159.54 L729.20 160.51 L729.44 161.48 L729.68 162.45 L729.91 163.42 L730.15 164.39 L730.38 165.36 L730.61 166.33 L730.84 167.30 L731.06 168.27 L731.29 169.24 L731.51 170.21 L731.73 171.18 L731.95 172.15 L732.17 173.12 L732.39 174.10 L732.61 175.07 L732.82 176.04 L733.04 177.01 L733.25 177.99 L733.46 178.96 L733.68 179.94 L733.89 180.91 L734.10 181.89 L734.30 182.86 L734.51 183.84 L734.72 184.81 L734.92 185.79 L735.12 186.77 L735.33 187.74 L735.53 188.72 L735.73 189.70 L735.93 190.68 L736.13 191.66 L736.33 192.63 L736.52 193.61 L736.72 194.59 L736.91 195.57 L737.10 196.55 L737.30 197.53 L737.49 198.51 L737.68 199.49 L737.87 200.47 L738.06 201.46 L738.24 202.44 L738.43 203.42 L738.62 204.40 L738.80 205.38 L738.99 206.37 L739.17 207.35 L739.35 208.33 L739.53 209.32 L739.71 210.30 L739.89 211.28 L740.07 212.27 L740.25 213.25 L740.42 214.24 L740.60 215.22 L740.77 216.21 L740.95 217.19 L741.12 218.18 L741.29 219.17 L741.46 220.15 L741.63 221.14 L741.80 222.13 L741.97 223.11 L742.14 224.10 L742.30 225.09 L742.47 226.07 L742.64 227.06 L742.80 228.05 L742.96 229.04 L743.13 230.03 L743.29 231.02 L743.45 232.01 L743.61 232.99 L743.77 233.98 L743.93 234.97 L744.09 235.96 L744.24 236.95 L744.40 237.94 L744.56 238.93 L744.71 239.92 L744.87 240.92 L745.02 241.91 L745.17 242.90 L745.32 243.89 L745.48 244.88 L745.63 245.87 L745.78 246.86 L745.93 247.86 L746.07 248.85 L746.22 249.84 L746.37 250.83 L746.52 251.83 L746.66 252.82 L746.81 253.81 L746.95 254.81 L747.10 255.80 L747.24 256.79 L747.38 257.79 L747.52 258.78 L747.66 259.78 L747.81 260.77 L747.95 261.76 L748.08 262.76 L748.22 263.75 L748.36 264.75 L748.50 265.74 L748.64 266.74 L748.77 267.73 L748.91 268.73 L749.04 269.72 L749.18 270.72 L749.31 271.71 L749.45 272.71 L749.58 273.71 L749.71 274.70 L749.84 275.70 L749.98 276.69 L750.11 277.69 L750.24 278.69 L750.37 279.68 L750.50 280.68 L750.62 281.68 L750.75 282.67 L750.88 283.67 L751.01 284.67 L751.13 285.67 L751.26 286.66 L751.39 287.66 L751.51 288.66 L751.64 289.66 L751.76 290.65 L751.89 291.65 L752.01 292.65 L752.13 293.65 L752.26 294.64 L752.38 295.64 L752.50 296.64 L752.62 297.64 L752.74 298.64 L752.86 299.63 L752.98 300.63 L753.10 301.63 L753.22 302.63 L753.34 303.63 L753.46 304.63 L753.58 305.62 L753.70 306.62 L753.82 307.62 L753.93 308.62 L754.05 309.62 L754.17 310.62 L754.28 311.62 L754.40 312.61 L754.51 313.61 L754.63 314.61 L754.74 315.61 L754.86 316.61 L754.97 317.61 L755.09 318.61 L755.20 319.61 L755.32 320.60 L755.43 321.60 L755.54 322.60 L755.65 323.60 L755.77 324.60 L755.88 325.60 L755.99 326.60 L756.10 327.60 L756.21 328.59 L756.32 329.59 L756.44 330.59 L756.55 331.59 L756.66 332.59 L756.77 333.59 L756.88 334.59 L756.99 335.59 L757.09 336.59 L757.20 337.58 L757.31 338.58 L757.42 339.58 L757.53 340.58 L757.64 341.58 L757.74 342.58 L757.85 343.58 L757.96 344.58 L758.07 345.58 L758.17 346.58 L758.28 347.57 L758.38 348.57 L758.49 349.57 L758.60 350.57 L758.70 351.57 L758.81 352.57 L758.91 353.57 L759.02 354.57 L759.12 355.57 L759.22 356.57 L759.33 357.56 L759.43 358.56 L759.53 359.56 L759.64 360.56 L759.74 361.56 L759.84 362.56 L759.94 363.56 L760.05 364.56 L760.15 365.56 L760.25 366.56 L760.35 367.56 L760.45 368.55 L760.55 369.55 L760.65 370.55 L760.75 371.55 L760.85 372.55 L760.95 373.55 L761.05 374.55 L761.15 375.55 L761.25 376.55 L761.35 377.55 L761.45 378.55 L761.54 379.55 L761.64 380.55 L761.74 381.54 L761.84 382.54 L761.93 383.54 L762.03 384.54 L762.13 385.54 L762.22 386.54 L762.32 387.54 L762.42 388.54 L762.51 389.54 L762.61 390.54 L762.70 391.54 L762.80 392.54 L762.89 393.54 L762.99 394.54 L763.08 395.53 L763.18 396.53 L763.27 397.53 L763.36 398.53 L763.46 399.53 L763.55 400.53 L763.64 401.53 L763.74 402.53 L763.83 403.53 L763.92 404.53 L764.01 405.53 L764.10 406.53 L764.20 407.53 L764.29 408.53 L764.38 409.53 L764.47 410.53 L764.56 411.53 L764.65 412.53 L764.74 413.53 L764.83 414.52 L764.92 415.52 L765.01 416.52 L765.10 417.52 L765.19 418.52 L765.28 419.52 L765.36 420.52 L765.45 421.52 L765.54 422.52 L765.63 423.52 L765.72 424.52 L765.80 425.52 L765.89 426.52 L765.98 427.52 L766.07 428.52 L766.15 429.52 L766.24 430.52 L766.32 431.52 L766.41 432.52 L766.50 433.52 L766.58 434.52 L766.67 435.52 L766.75 436.52 L766.84 437.52 L766.92 438.52 L767.01 439.52 L767.09 440.52 L767.17 441.52 L767.26 442.52 L767.34 443.52 L767.43 444.52 L767.51 445.52 L767.59 446.52 L767.67 447.52 L767.76 448.52 L767.84 449.51 L767.92 450.51 L768.00 451.51 L768.08 452.51 L768.17 453.51 L768.25 454.51 L768.33 455.51 L768.41 456.51 L768.49 457.51 L768.57 458.51 L768.65 459.51 L768.73 460.51 L768.81 461.51 L768.89 462.51 L768.97 463.51 L769.05 464.51 L769.13 465.51 L769.21 466.51 L769.29 467.52 L769.36 468.52 L769.44 469.52 L769.52 470.52 L769.60 471.52 L769.68 472.52 L769.75 473.52 L769.83 474.52 L769.91 475.52 L769.98 476.52 L770.06 477.52 L770.14 478.52 L770.21 479.52 L770.29 480.52 L770.37 481.52 L770.44 482.52 L770.52 483.52 L770.59 484.52 L770.67 485.52 L770.74 486.52 L770.82 487.52 L770.89 488.52 L770.97 489.52 L771.04 490.52 L771.12 491.52 L771.19 492.52 L771.26 493.52 L771.34 494.52 L771.41 495.52 L771.48 496.52 L771.56 497.52 L771.63 498.52 L771.70 499.52 L771.77 500.53 L771.85 501.53 L771.92 502.53 L771.99 503.53 L772.06 504.53 L772.13 505.53 L772.20 506.53 L772.28 507.53 L772.35 508.53 L772.42 509.53 L772.49 510.53 L772.56 511.53 L772.63 512.53 L772.70 513.53 L772.77 514.53 L772.84 515.53 L772.91 516.53 L772.98 517.54 L773.05 518.54 L773.12 519.54 L773.19 520.54 L773.25 521.54 L773.32 522.54 L773.39 523.54 L773.46 524.54 L773.53 525.54 L773.60 526.54 L773.66 527.54 L773.73 528.54 L773.80 529.55 L773.87 530.55 L773.93 531.55 L774.00 532.55 L774.07 533.55 L774.13 534.55 L774.20 535.55 L774.27 536.55 L774.33 537.55 L774.40 538.55 L774.46 539.55 L774.53 540.56 L774.59 541.56 L774.66 542.56 L774.72 543.56 L774.79 544.56 L774.85 545.56 L774.92 546.56 L774.98 547.56 L775.05 548.56 L775.11 549.57 L775.18 550.57 L775.24 551.57 L775.30 552.57 L775.37 553.57 L775.43 554.57 L775.49 555.57 L775.56 556.57 L775.62 557.58 L775.68 558.58 L775.75 559.58 L775.81 560.58 L775.87 561.58 L775.93 562.58 L776.00 563.58 L776.06 564.58 L776.12 565.59 L776.18 566.59 L776.24 567.59 L776.30 568.59 L776.37 569.59 L776.43 570.59 L776.49 571.59 L776.55 572.60 L776.61 573.60 L776.67 574.60 L776.73 575.60 L776.79 576.60 L776.85 577.60 L776.91 578.61 L776.97 579.61 L777.03 580.61 L777.09 581.61 L777.15 582.61 L777.21 583.61 L777.27 584.62 L777.33 585.62 L777.38 586.62 L777.44 587.62 L777.50 588.62 L777.56 589.62 L777.62 590.63 L777.68 591.63 L777.74 592.63 L777.79 593.63 L777.85 594.63 L777.91 595.63 L777.97 596.64 L778.02 597.64 L778.08 598.64 L778.14 599.64 L778.20 600.64 L778.25 601.65 L778.31 602.65 L778.37 603.65 L778.42 604.65 L778.48 605.65 L778.54 606.66 L778.59 607.66 L778.65 608.66 L778.70 609.66 L778.76 610.66 L778.81 611.67 L778.87 612.67 L778.93 613.67 L778.98 614.67 L779.04 615.68 L779.09 616.68 L779.15 617.68 L779.20 618.68 L779.26 619.68 L779.31 620.69 L779.36 621.69 L779.42 622.69 L779.47 623.69 L779.53 624.70 L779.58 625.70 L779.64 626.70 L779.69 627.70 L779.74 628.71 L779.80 629.71 L779.85 630.71 L779.90 631.71 L779.96 632.71 L780.01 633.72 L780.06 634.72 L780.12 635.72 L780.17 636.72 L780.22 637.73 L780.27 638.73 L780.33 639.73 L780.38 640.74 L780.43 641.74 L780.48 642.74 L780.54 643.74 L780.59 644.75 L780.64 645.75 L780.69 646.75 L780.74 647.75 L780.79 648.76 L780.85 649.76 L780.90 650.76 L780.95 651.76 L781.00 652.77 L781.05 653.77 L781.10 654.77 L781.15 655.78 L781.20 656.78 L781.25 657.78 L781.30 658.79 L781.36 659.79 L781.41 660.79 L781.46 661.79 L781.51 662.80 L781.56 663.80 L781.61 664.80 L781.66 665.81 L781.71 666.81 L781.76 667.81 L781.81 668.82 L781.85 669.82 L781.90 670.82 L781.95 671.82 L782.00 672.83 L782.05 673.83 L782.10 674.83 L782.15 675.84 L782.20 676.84 L782.25 677.84 L782.30 678.85 L782.35 679.85 L782.39 680.85 L782.44 681.86 L782.49 682.86 L782.54 683.86 L782.59 684.87 L782.64 685.87 L782.68 686.87 L782.73 687.88 L782.78 688.88 L782.83 689.89 L782.88 690.89 L782.92 691.89 L782.97 692.90 L783.02 693.90 L783.07 694.90 L783.11 695.91 L783.16 696.91 L783.21 697.91 L783.25 698.92 L783.30 699.92 L783.35 700.92 L783.40 701.93 L783.44 702.93 L783.49 703.94 L783.54 704.94 L783.58 705.94 L783.63 706.95 L783.68 707.95 L783.72 708.96 L783.77 709.96 L783.82 710.96 L783.86 711.97 L783.91 712.97 L783.95 713.98 L784.00 714.98 L784.05 715.98 L784.09 716.99 L784.14 717.99 L784.18 719.00 L784.23 720.00 L784.27 721.00 L784.32 722.01 L784.37 723.01 L784.41 724.02 L784.46 725.02 L784.50 726.02 L784.54 726.92 L784.58 727.70 L784.61 728.37 L784.63 728.93" stroke="#00f" stroke-dasharray="11.4 6.665" stroke-dashoffset="7.19"/>
</g>
<g font-family="Liberation Serif, serif" opacity="0.999" fill="#000">
<text transform="translate(54.00,724.50) scale(0.9563,1.0000)" font-size="35.00" >0.2</text>
<text transform="translate(36.77,584.74) scale(0.9563,1.0000)" font-size="35.00" >0.25</text>
<text transform="translate(53.50,444.98) scale(0.9563,1.0000)" font-size="35.00" >0.3</text>
<text transform="translate(36.77,305.22) scale(0.9563,1.0000)" font-size="35.00" >0.35</text>
<text transform="translate(52.66,165.46) scale(0.9563,1.0000)" font-size="35.00" >0.4</text>
<text transform="translate(36.77,25.70) scale(0.9563,1.0000)" font-size="35.00" >0.45</text>
<text transform="translate(78.93,759.10) scale(0.9364,1.0000)" font-size="35.00" >10</text>
<text transform="translate(111.61,738.70) scale(1.0000,1.0000)" font-size="23.80" >-4</text>
<text transform="translate(311.93,759.10) scale(0.9364,1.0000)" font-size="35.00" >10</text>
<text transform="translate(344.61,738.70) scale(1.0000,1.0000)" font-size="23.80" >-3</text>
<text transform="translate(544.93,759.10) scale(0.9364,1.0000)" font-size="35.00" >10</text>
<text transform="translate(577.61,738.70) scale(1.0000,1.0000)" font-size="23.80" >-2</text>
<text transform="translate(777.93,759.10) scale(0.9364,1.0000)" font-size="35.00" >10</text>
<text transform="translate(810.61,738.70) scale(1.0000,1.0000)" font-size="23.80" >-1</text>
<text transform="translate(408.38,792.90) scale(1.0127,1.0000)" font-size="33.44" >R</text>
<text transform="translate(431.14,806.08) scale(1.0971,1.0000)" font-size="21.88" >s</text>
<text transform="translate(440.59,792.90) scale(0.9236,1.0000)" font-size="33.94" >Λ</text>
<text transform="translate(462.98,805.76) scale(1.0195,1.0000)" font-size="23.64" >MS</text>
<line x1="463.2" y1="787.3" x2="497.9" y2="787.3" stroke="#000" stroke-width="1.3"/>
<g fill="none" stroke="#000" stroke-linecap="round" stroke-linejoin="round">
<path d="M7.6 370.6 C5.6 371.2 2.6 370.4 2.5 367.6 C2.4 364.6 5.2 363.4 8.2 362.8 C13.5 361.8 19 360.6 23.5 359.3 C26 358.5 27.4 357.6 27.2 356.2 C27 354.9 25 354.5 22.8 354.9" stroke-width="1.9"/>
</g>
<circle cx="7.3" cy="370.5" r="1.45" fill="#000"/>
<path d="M10.2 363.6 L12.9 361.7 L26.9 368.3 L26.9 372.2 Z" fill="#000"/>
</g>
<rect x="154.0" y="64.1" width="296.6" height="106.15" fill="#fff" stroke="#000" stroke-width="1.7"/>
<g stroke-width="2.5" fill="none">
<line x1="164.7" y1="83.5" x2="205.1" y2="83.5" stroke="#000"/>
<line x1="164.7" y1="114.8" x2="205.1" y2="114.8" stroke="#f00" stroke-dasharray="11.5 6.7"/>
<line x1="164.7" y1="148.8" x2="205.1" y2="148.8" stroke="#00f" stroke-dasharray="11.5 6.7"/>
</g>
<g font-family="Liberation Serif, serif" opacity="0.999" fill="#000">
<text transform="translate(224.36,92.70) scale(0.9750,1.0000)" font-size="28.60" >PV</text>
<text transform="translate(224.36,121.70) scale(0.9750,1.0000)" font-size="28.60" >PV</text>
<g transform="translate(0,0.4)" fill="none" stroke="#000" stroke-linecap="round" stroke-linejoin="round">
<path d="M291.2 111.3 Q292.0 108.8 294.6 108.75 L304.9 108.6" stroke-width="2.0"/>
<path d="M296.1 109.4 C295.7 114.6 295.0 118.6 293.3 120.6" stroke-width="1.7"/>
<path d="M301.05 109.4 L300.75 117.6 Q300.8 120.9 302.7 121.0 Q304.6 120.9 305.0 119.0" stroke-width="2.1"/>
</g>
<circle cx="293.15" cy="120.95" r="1.35" fill="#000"/>
<text transform="translate(324.35,121.70) scale(0.9875,1.0000)" font-size="28.60" >Res(u=1)</text>
<text transform="translate(224.36,155.65) scale(0.9750,1.0000)" font-size="28.60" >PV</text>
<g transform="translate(-6.5,34.35)" fill="none" stroke="#000" stroke-linecap="round" stroke-linejoin="round">
<path d="M291.2 111.3 Q292.0 108.8 294.6 108.75 L304.9 108.6" stroke-width="2.0"/>
<path d="M296.1 109.4 C295.7 114.6 295.0 118.6 293.3 120.6" stroke-width="1.7"/>
<path d="M301.05 109.4 L300.75 117.6 Q300.8 120.9 302.7 121.0 Q304.6 120.9 305.0 119.0" stroke-width="2.1"/>
</g>
<circle cx="286.65" cy="154.9" r="1.35" fill="#000"/>
<text transform="translate(318.15,155.65) scale(0.9875,1.0000)" font-size="28.60" >Res(u=1)</text>
</g>
<path d="M268.15 114.1 H282.25 M275.2 107.2 V121.3" stroke="#000" stroke-width="1.8" fill="none"/>
<path d="M268.3 149.3 H275.5" stroke="#000" stroke-width="2.2" fill="none"/>
<line x1="314.8" y1="101.1" x2="314.8" y2="127.8" stroke="#000" stroke-width="1.8"/>
<line x1="439.2" y1="101.1" x2="439.2" y2="127.8" stroke="#000" stroke-width="1.8"/>
<line x1="309.1" y1="135.0" x2="309.1" y2="161.8" stroke="#000" stroke-width="1.8"/>
<line x1="432.9" y1="135.0" x2="432.9" y2="161.8" stroke="#000" stroke-width="1.8"/>
</svg>
</body></html>
